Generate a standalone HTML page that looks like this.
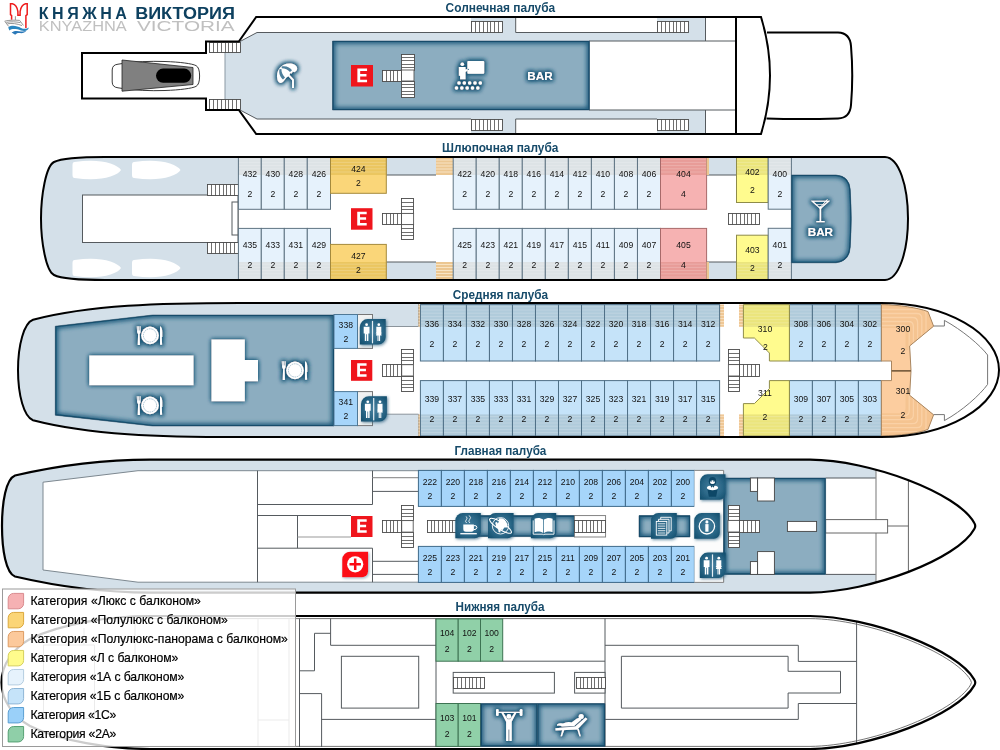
<!DOCTYPE html>
<html><head><meta charset="utf-8"><title>Княжна Виктория</title>
<style>html,body{margin:0;padding:0;background:#fff}svg{display:block;opacity:.999}text{font-family:"Liberation Sans",sans-serif}.n{font-size:9.6px;fill:#111;text-anchor:middle}</style></head><body>
<svg width="1000" height="750" viewBox="0 0 1000 750">
<defs>
<filter id="b15" x="-20%" y="-20%" width="140%" height="140%"><feGaussianBlur stdDeviation="1.9"/></filter>
<filter id="b05" x="-10%" y="-20%" width="120%" height="140%"><feGaussianBlur stdDeviation="0.5"/></filter>
<filter id="shadowg" x="-30%" y="-30%" width="170%" height="170%"><feGaussianBlur in="SourceAlpha" stdDeviation="1.6" result="b"/><feOffset in="b" dx="0.5" dy="0.5" result="o"/><feFlood flood-color="#6b8da3" flood-opacity=".7"/><feComposite in2="o" operator="in" result="c"/><feMerge><feMergeNode in="c"/><feMergeNode in="SourceGraphic"/></feMerge></filter>
<filter id="wglow" x="-20%" y="-20%" width="140%" height="140%"><feGaussianBlur in="SourceAlpha" stdDeviation="2" result="b"/><feFlood flood-color="#1f5878"/><feComposite in2="b" operator="in" result="c"/><feMerge><feMergeNode in="c"/><feMergeNode in="c"/><feMergeNode in="SourceGraphic"/></feMerge></filter>
<filter id="b1" x="-30%" y="-30%" width="160%" height="160%"><feGaussianBlur stdDeviation="1"/></filter>
<filter id="glow" x="-50%" y="-50%" width="200%" height="200%">
<feMorphology in="SourceAlpha" operator="dilate" radius="0.9" result="d"/><feGaussianBlur in="d" stdDeviation="2" result="b"/>
<feFlood flood-color="#1f5878" flood-opacity=".95"/><feComposite in2="b" operator="in" result="c"/>
<feMerge><feMergeNode in="c"/><feMergeNode in="c"/><feMergeNode in="SourceGraphic"/></feMerge></filter>
<filter id="shadow" x="-30%" y="-30%" width="170%" height="170%">
<feGaussianBlur in="SourceAlpha" stdDeviation="1.6" result="b"/><feOffset in="b" dx="1" dy="1" result="o"/>
<feFlood flood-color="#2a5f7e" flood-opacity=".75"/><feComposite in2="o" operator="in" result="c"/>
<feMerge><feMergeNode in="c"/><feMergeNode in="SourceGraphic"/></feMerge></filter>
<radialGradient id="leaf" cx="50%" cy="50%" r="65%"><stop offset="0" stop-color="#457e9d"/><stop offset=".6" stop-color="#2b6787"/><stop offset="1" stop-color="#14506f"/></radialGradient>
</defs>
<rect width="1000" height="750" fill="#fff"/>

<g id="deck1">
<path d="M767,32.5H838Q850,33 851,46Q853.5,75.5 851,105Q850,118 838,118.5Q800,119.5 766.5,118.5" fill="#fff" stroke="#000" stroke-width="2" />
<path d="M82,53H206V41.5H238.8L256.2,17H761Q779,75.5 761,134H256.2L238.8,110H206V98.5H82Z" fill="#fff" stroke="none" stroke-width="0" />
<path d="M225,41.5H240L257,32.5H471V17H515.5V32.5H657V17H705.5V41H589V110H705.5V134H657V119H515.5V134H471V119H257L240,110H225Z" fill="#d4e0e9" stroke="none" stroke-width="0" />
<path d="M225,41.5V110" fill="none" stroke="#8a98a3" stroke-width="1" />
<path d="M240,41.5L257,32.5H471M515.7,17.5V32.5H657" fill="none" stroke="#555a5e" stroke-width="1" />
<path d="M240,110L257,119H471M515.7,133.5V119H657" fill="none" stroke="#555a5e" stroke-width="1" />
<path d="M705.5,17.5V41M705.5,134V110M589,41H735M589,110H735" fill="none" stroke="#555a5e" stroke-width="1" />
<clipPath id="rc1"><path d="M332.5,41H589.5V110H332.5Z"/></clipPath>
<g clip-path="url(#rc1)"><path d="M332.5,41H589.5V110H332.5Z" fill="#8cadc0"/><path d="M332.5,41H589.5V110H332.5Z" fill="none" stroke="#1f5a7c" stroke-width="5.5" filter="url(#b15)"/><path d="M332.5,41H589.5V110H332.5Z" fill="none" stroke="#0f4a6a" stroke-width="2.2" filter="url(#b05)"/></g><path d="M332.5,41H589.5V110H332.5Z" fill="none" stroke="#33556b" stroke-width=".7" opacity=".8"/>
<rect x="471.50" y="21.50" width="31.00" height="11.00" fill="#fff" stroke="#4a4a4a" stroke-width="0.9" />
<path d="M475.5,21.5V32.5M479.5,21.5V32.5M483.5,21.5V32.5M487.5,21.5V32.5M490.5,21.5V32.5M494.5,21.5V32.5M498.5,21.5V32.5" fill="none" stroke="#4a4a4a" stroke-width="0.8" />
<rect x="471.50" y="119.50" width="31.00" height="11.00" fill="#fff" stroke="#4a4a4a" stroke-width="0.9" />
<path d="M475.5,119.5V130.5M479.5,119.5V130.5M483.5,119.5V130.5M487.5,119.5V130.5M490.5,119.5V130.5M494.5,119.5V130.5M498.5,119.5V130.5" fill="none" stroke="#4a4a4a" stroke-width="0.8" />
<rect x="657.50" y="21.50" width="31.00" height="11.00" fill="#fff" stroke="#4a4a4a" stroke-width="0.9" />
<path d="M661.5,21.5V32.5M665.5,21.5V32.5M669.5,21.5V32.5M673.5,21.5V32.5M676.5,21.5V32.5M680.5,21.5V32.5M684.5,21.5V32.5" fill="none" stroke="#4a4a4a" stroke-width="0.8" />
<rect x="657.50" y="119.50" width="31.00" height="11.00" fill="#fff" stroke="#4a4a4a" stroke-width="0.9" />
<path d="M661.5,119.5V130.5M665.5,119.5V130.5M669.5,119.5V130.5M673.5,119.5V130.5M676.5,119.5V130.5M680.5,119.5V130.5M684.5,119.5V130.5" fill="none" stroke="#4a4a4a" stroke-width="0.8" />
<rect x="209.50" y="42.50" width="31.00" height="10.00" fill="#fff" stroke="#4a4a4a" stroke-width="0.9" />
<path d="M213.5,42.5V52.5M217.5,42.5V52.5M221.5,42.5V52.5M225.5,42.5V52.5M228.5,42.5V52.5M232.5,42.5V52.5M236.5,42.5V52.5" fill="none" stroke="#4a4a4a" stroke-width="0.8" />
<rect x="209.50" y="99.50" width="31.00" height="10.00" fill="#fff" stroke="#4a4a4a" stroke-width="0.9" />
<path d="M213.5,99.5V109.5M217.5,99.5V109.5M221.5,99.5V109.5M225.5,99.5V109.5M228.5,99.5V109.5M232.5,99.5V109.5M236.5,99.5V109.5" fill="none" stroke="#4a4a4a" stroke-width="0.8" />
<path d="M82,53H206V41.5H238.8L256.2,17H761Q779,75.5 761,134H256.2L238.8,110H206V98.5H82Z" fill="none" stroke="#000" stroke-width="2.0" stroke-linejoin="miter"/>
<path d="M736,17V134" fill="none" stroke="#000" stroke-width="2" />
<path d="M112.2,70Q112.2,64.8 118,64.2L122,63.6C135,61.6 150,61 165,61.5C180,62 192,63.6 196,65.6Q199.6,67.4 199.6,76Q199.6,84.6 196,86.4C192,88.4 180,90 165,90.5C150,91 135,90.4 122,88.4L118,87.8Q112.2,87.2 112.2,82Z" fill="#fff" stroke="#222" stroke-width="0.9" />
<path d="M122,60L193,67.5V84.5L122,91.2Z" fill="#808080" stroke="#222" stroke-width="0.8" />
<rect x="156" y="68.6" width="35.2" height="14.2" rx="7.1" fill="#000"/>
<rect x="351" y="65" width="22.00" height="21.50" fill="#ef151c"/>
<path d="M357.38,68.44H367.06v2.5H360.18V74.07H366.46v2.5H360.18V79.70H367.06v2.5H357.38Z" fill="#fff"/>
<rect x="401.50" y="54.50" width="13.00" height="16.00" fill="#fff" stroke="#4a4a4a" stroke-width="0.9" />
<path d="M401.5,57.5H414.5M401.5,60.5H414.5M401.5,64.5H414.5M401.5,67.5H414.5" fill="none" stroke="#4a4a4a" stroke-width="0.8" />
<rect x="401.50" y="81.50" width="13.00" height="16.00" fill="#fff" stroke="#4a4a4a" stroke-width="0.9" />
<path d="M401.5,84.5H414.5M401.5,87.5H414.5M401.5,91.5H414.5M401.5,94.5H414.5" fill="none" stroke="#4a4a4a" stroke-width="0.8" />
<rect x="401.00" y="70.00" width="13.00" height="11.00" fill="#fff" stroke="#555" stroke-width="0.9" />
<rect x="382.50" y="70.50" width="19.00" height="11.00" fill="#fff" stroke="#4a4a4a" stroke-width="0.9" />
<path d="M386.5,70.5V81.5M390.5,70.5V81.5M393.5,70.5V81.5M397.5,70.5V81.5" fill="none" stroke="#4a4a4a" stroke-width="0.8" />
</g>
<g id="deck2">
<path d="M105,157H885C899,157.5 908,186 908,218.5C908,251 899,279.5 885,280H105C80,280 60,278 54,275C46,271 41,242 41,218.5C41,195 46,166 54,162C60,159 80,157 105,157Z" fill="#d4e0e9" stroke="none" stroke-width="0" />
<rect x="238.00" y="175.00" width="553.50" height="87.00" fill="#fff" stroke="none" stroke-width="0" />
<rect x="82.50" y="195.00" width="155.50" height="47.50" fill="#fff" stroke="#555a5e" stroke-width="1" />
<rect x="232.00" y="202.00" width="6.00" height="33.00" fill="#fff" stroke="#555a5e" stroke-width="1" />
<rect x="207.50" y="184.50" width="31.00" height="11.00" fill="#fff" stroke="#4a4a4a" stroke-width="0.9" />
<path d="M211.5,184.5V195.5M215.5,184.5V195.5M219.5,184.5V195.5M223.5,184.5V195.5M226.5,184.5V195.5M230.5,184.5V195.5M234.5,184.5V195.5" fill="none" stroke="#4a4a4a" stroke-width="0.8" />
<rect x="207.50" y="242.50" width="31.00" height="11.00" fill="#fff" stroke="#4a4a4a" stroke-width="0.9" />
<path d="M211.5,242.5V253.5M215.5,242.5V253.5M219.5,242.5V253.5M223.5,242.5V253.5M226.5,242.5V253.5M230.5,242.5V253.5M234.5,242.5V253.5" fill="none" stroke="#4a4a4a" stroke-width="0.8" />
<path d="M74.5,162Q72.5,162 72.5,165V175Q72.5,178 74.5,178Q96.5,181 110.5,176.5Q119.0,173.5 121.0,170Q119.0,166.5 110.5,163.5Q96.5,159 74.5,162Z" fill="#fff" stroke="none" stroke-width="0" filter="url(#b05)"/>
<path d="M134,162Q132,162 132,165V175Q132,178 134,178Q156,181 170,176.5Q178.5,173.5 180.5,170Q178.5,166.5 170,163.5Q156,159 134,162Z" fill="#fff" stroke="none" stroke-width="0" filter="url(#b05)"/>
<path d="M74.5,260Q72.5,260 72.5,263V273Q72.5,276 74.5,276Q96.5,279 110.5,274.5Q119.0,271.5 121.0,268Q119.0,264.5 110.5,261.5Q96.5,257 74.5,260Z" fill="#fff" stroke="none" stroke-width="0" filter="url(#b05)"/>
<path d="M134,260Q132,260 132,263V273Q132,276 134,276Q156,279 170,274.5Q178.5,271.5 180.5,268Q178.5,264.5 170,261.5Q156,257 134,260Z" fill="#fff" stroke="none" stroke-width="0" filter="url(#b05)"/>
<path d="M386.3,175H436M386.3,262H436M706.6,175H736.5M706.6,262H736.5" fill="none" stroke="#555a5e" stroke-width="1" />
<rect x="436" y="157.5" width="17" height="17.5" fill="#ecc792"/>
<path d="M436,160.0H453M436,163.0H453M436,166.0H453M436,169.0H453M436,172.0H453" fill="none" stroke="#f8e4c4" stroke-width="1.1" />
<rect x="436" y="262" width="17" height="17.5" fill="#ecc792"/>
<path d="M436,264.5H453M436,267.5H453M436,270.5H453M436,273.5H453M436,276.5H453" fill="none" stroke="#f8e4c4" stroke-width="1.1" />
<rect x="238.40" y="157.00" width="22.90" height="52.30" fill="#e6f2fc" stroke="none" stroke-width="0" />
<rect x="238.40" y="157.00" width="22.90" height="18.00" fill="#dde3e6"/>
<path d="M238.40,159.20H261.30M238.40,162.40H261.30M238.40,165.60H261.30M238.40,168.80H261.30M238.40,172.00H261.30" fill="none" stroke="#ffffff" stroke-width="0.7" opacity=".28"/>
<rect x="238.40" y="157.00" width="22.90" height="52.30" fill="none" stroke="#5f7483" stroke-width="1" />
<text class="n" transform="translate(249.9,176.7) scale(.9,1)">432</text>
<text class="n" transform="translate(249.9,197.2) scale(.9,1)">2</text>
<rect x="238.40" y="228.40" width="22.90" height="51.60" fill="#e6f2fc" stroke="none" stroke-width="0" />
<rect x="238.40" y="262.00" width="22.90" height="18.00" fill="#dde3e6"/>
<path d="M238.40,264.20H261.30M238.40,267.40H261.30M238.40,270.60H261.30M238.40,273.80H261.30M238.40,277.00H261.30" fill="none" stroke="#ffffff" stroke-width="0.7" opacity=".28"/>
<rect x="238.40" y="228.40" width="22.90" height="51.60" fill="none" stroke="#5f7483" stroke-width="1" />
<text class="n" transform="translate(249.9,248.0) scale(.9,1)">435</text>
<text class="n" transform="translate(249.9,268.1) scale(.9,1)">2</text>
<rect x="261.30" y="157.00" width="23.00" height="52.30" fill="#e6f2fc" stroke="none" stroke-width="0" />
<rect x="261.30" y="157.00" width="23.00" height="18.00" fill="#dde3e6"/>
<path d="M261.30,159.20H284.30M261.30,162.40H284.30M261.30,165.60H284.30M261.30,168.80H284.30M261.30,172.00H284.30" fill="none" stroke="#ffffff" stroke-width="0.7" opacity=".28"/>
<rect x="261.30" y="157.00" width="23.00" height="52.30" fill="none" stroke="#5f7483" stroke-width="1" />
<text class="n" transform="translate(272.8,176.7) scale(.9,1)">430</text>
<text class="n" transform="translate(272.8,197.2) scale(.9,1)">2</text>
<rect x="261.30" y="228.40" width="23.00" height="51.60" fill="#e6f2fc" stroke="none" stroke-width="0" />
<rect x="261.30" y="262.00" width="23.00" height="18.00" fill="#dde3e6"/>
<path d="M261.30,264.20H284.30M261.30,267.40H284.30M261.30,270.60H284.30M261.30,273.80H284.30M261.30,277.00H284.30" fill="none" stroke="#ffffff" stroke-width="0.7" opacity=".28"/>
<rect x="261.30" y="228.40" width="23.00" height="51.60" fill="none" stroke="#5f7483" stroke-width="1" />
<text class="n" transform="translate(272.8,248.0) scale(.9,1)">433</text>
<text class="n" transform="translate(272.8,268.1) scale(.9,1)">2</text>
<rect x="284.30" y="157.00" width="23.00" height="52.30" fill="#e6f2fc" stroke="none" stroke-width="0" />
<rect x="284.30" y="157.00" width="23.00" height="18.00" fill="#dde3e6"/>
<path d="M284.30,159.20H307.30M284.30,162.40H307.30M284.30,165.60H307.30M284.30,168.80H307.30M284.30,172.00H307.30" fill="none" stroke="#ffffff" stroke-width="0.7" opacity=".28"/>
<rect x="284.30" y="157.00" width="23.00" height="52.30" fill="none" stroke="#5f7483" stroke-width="1" />
<text class="n" transform="translate(295.8,176.7) scale(.9,1)">428</text>
<text class="n" transform="translate(295.8,197.2) scale(.9,1)">2</text>
<rect x="284.30" y="228.40" width="23.00" height="51.60" fill="#e6f2fc" stroke="none" stroke-width="0" />
<rect x="284.30" y="262.00" width="23.00" height="18.00" fill="#dde3e6"/>
<path d="M284.30,264.20H307.30M284.30,267.40H307.30M284.30,270.60H307.30M284.30,273.80H307.30M284.30,277.00H307.30" fill="none" stroke="#ffffff" stroke-width="0.7" opacity=".28"/>
<rect x="284.30" y="228.40" width="23.00" height="51.60" fill="none" stroke="#5f7483" stroke-width="1" />
<text class="n" transform="translate(295.8,248.0) scale(.9,1)">431</text>
<text class="n" transform="translate(295.8,268.1) scale(.9,1)">2</text>
<rect x="307.30" y="157.00" width="23.20" height="52.30" fill="#e6f2fc" stroke="none" stroke-width="0" />
<rect x="307.30" y="157.00" width="23.20" height="18.00" fill="#dde3e6"/>
<path d="M307.30,159.20H330.50M307.30,162.40H330.50M307.30,165.60H330.50M307.30,168.80H330.50M307.30,172.00H330.50" fill="none" stroke="#ffffff" stroke-width="0.7" opacity=".28"/>
<rect x="307.30" y="157.00" width="23.20" height="52.30" fill="none" stroke="#5f7483" stroke-width="1" />
<text class="n" transform="translate(318.9,176.7) scale(.9,1)">426</text>
<text class="n" transform="translate(318.9,197.2) scale(.9,1)">2</text>
<rect x="307.30" y="228.40" width="23.20" height="51.60" fill="#e6f2fc" stroke="none" stroke-width="0" />
<rect x="307.30" y="262.00" width="23.20" height="18.00" fill="#dde3e6"/>
<path d="M307.30,264.20H330.50M307.30,267.40H330.50M307.30,270.60H330.50M307.30,273.80H330.50M307.30,277.00H330.50" fill="none" stroke="#ffffff" stroke-width="0.7" opacity=".28"/>
<rect x="307.30" y="228.40" width="23.20" height="51.60" fill="none" stroke="#5f7483" stroke-width="1" />
<text class="n" transform="translate(318.9,248.0) scale(.9,1)">429</text>
<text class="n" transform="translate(318.9,268.1) scale(.9,1)">2</text>
<rect x="330.50" y="157.00" width="55.80" height="36.30" fill="#fad679" stroke="none" stroke-width="0" />
<rect x="330.50" y="157.00" width="55.80" height="18.00" fill="#ebc660"/>
<path d="M330.50,159.20H386.30M330.50,162.40H386.30M330.50,165.60H386.30M330.50,168.80H386.30M330.50,172.00H386.30" fill="none" stroke="#ffffff" stroke-width="0.7" opacity=".28"/>
<rect x="330.50" y="157.00" width="55.80" height="36.30" fill="none" stroke="#a58a3c" stroke-width="1" />
<text class="n" transform="translate(358.4,172.1) scale(.9,1)">424</text>
<text class="n" transform="translate(358.4,186.4) scale(.9,1)">2</text>
<rect x="330.50" y="244.40" width="55.80" height="35.60" fill="#fad679" stroke="none" stroke-width="0" />
<rect x="330.50" y="262.00" width="55.80" height="18.00" fill="#ebc660"/>
<path d="M330.50,264.20H386.30M330.50,267.40H386.30M330.50,270.60H386.30M330.50,273.80H386.30M330.50,277.00H386.30" fill="none" stroke="#ffffff" stroke-width="0.7" opacity=".28"/>
<rect x="330.50" y="244.40" width="55.80" height="35.60" fill="none" stroke="#a58a3c" stroke-width="1" />
<text class="n" transform="translate(358.4,258.8) scale(.9,1)">427</text>
<text class="n" transform="translate(358.4,272.8) scale(.9,1)">2</text>
<rect x="453.20" y="157.00" width="23.03" height="52.30" fill="#e6f2fc" stroke="none" stroke-width="0" />
<rect x="453.20" y="157.00" width="23.03" height="18.00" fill="#dde3e6"/>
<path d="M453.20,159.20H476.23M453.20,162.40H476.23M453.20,165.60H476.23M453.20,168.80H476.23M453.20,172.00H476.23" fill="none" stroke="#ffffff" stroke-width="0.7" opacity=".28"/>
<rect x="453.20" y="157.00" width="23.03" height="52.30" fill="none" stroke="#5f7483" stroke-width="1" />
<text class="n" transform="translate(464.7,176.7) scale(.9,1)">422</text>
<text class="n" transform="translate(464.7,197.2) scale(.9,1)">2</text>
<rect x="453.20" y="228.40" width="23.03" height="51.60" fill="#e6f2fc" stroke="none" stroke-width="0" />
<rect x="453.20" y="262.00" width="23.03" height="18.00" fill="#dde3e6"/>
<path d="M453.20,264.20H476.23M453.20,267.40H476.23M453.20,270.60H476.23M453.20,273.80H476.23M453.20,277.00H476.23" fill="none" stroke="#ffffff" stroke-width="0.7" opacity=".28"/>
<rect x="453.20" y="228.40" width="23.03" height="51.60" fill="none" stroke="#5f7483" stroke-width="1" />
<text class="n" transform="translate(464.7,248.0) scale(.9,1)">425</text>
<text class="n" transform="translate(464.7,268.1) scale(.9,1)">2</text>
<rect x="476.23" y="157.00" width="23.03" height="52.30" fill="#e6f2fc" stroke="none" stroke-width="0" />
<rect x="476.23" y="157.00" width="23.03" height="18.00" fill="#dde3e6"/>
<path d="M476.23,159.20H499.27M476.23,162.40H499.27M476.23,165.60H499.27M476.23,168.80H499.27M476.23,172.00H499.27" fill="none" stroke="#ffffff" stroke-width="0.7" opacity=".28"/>
<rect x="476.23" y="157.00" width="23.03" height="52.30" fill="none" stroke="#5f7483" stroke-width="1" />
<text class="n" transform="translate(487.8,176.7) scale(.9,1)">420</text>
<text class="n" transform="translate(487.8,197.2) scale(.9,1)">2</text>
<rect x="476.23" y="228.40" width="23.03" height="51.60" fill="#e6f2fc" stroke="none" stroke-width="0" />
<rect x="476.23" y="262.00" width="23.03" height="18.00" fill="#dde3e6"/>
<path d="M476.23,264.20H499.27M476.23,267.40H499.27M476.23,270.60H499.27M476.23,273.80H499.27M476.23,277.00H499.27" fill="none" stroke="#ffffff" stroke-width="0.7" opacity=".28"/>
<rect x="476.23" y="228.40" width="23.03" height="51.60" fill="none" stroke="#5f7483" stroke-width="1" />
<text class="n" transform="translate(487.8,248.0) scale(.9,1)">423</text>
<text class="n" transform="translate(487.8,268.1) scale(.9,1)">2</text>
<rect x="499.27" y="157.00" width="23.03" height="52.30" fill="#e6f2fc" stroke="none" stroke-width="0" />
<rect x="499.27" y="157.00" width="23.03" height="18.00" fill="#dde3e6"/>
<path d="M499.27,159.20H522.30M499.27,162.40H522.30M499.27,165.60H522.30M499.27,168.80H522.30M499.27,172.00H522.30" fill="none" stroke="#ffffff" stroke-width="0.7" opacity=".28"/>
<rect x="499.27" y="157.00" width="23.03" height="52.30" fill="none" stroke="#5f7483" stroke-width="1" />
<text class="n" transform="translate(510.8,176.7) scale(.9,1)">418</text>
<text class="n" transform="translate(510.8,197.2) scale(.9,1)">2</text>
<rect x="499.27" y="228.40" width="23.03" height="51.60" fill="#e6f2fc" stroke="none" stroke-width="0" />
<rect x="499.27" y="262.00" width="23.03" height="18.00" fill="#dde3e6"/>
<path d="M499.27,264.20H522.30M499.27,267.40H522.30M499.27,270.60H522.30M499.27,273.80H522.30M499.27,277.00H522.30" fill="none" stroke="#ffffff" stroke-width="0.7" opacity=".28"/>
<rect x="499.27" y="228.40" width="23.03" height="51.60" fill="none" stroke="#5f7483" stroke-width="1" />
<text class="n" transform="translate(510.8,248.0) scale(.9,1)">421</text>
<text class="n" transform="translate(510.8,268.1) scale(.9,1)">2</text>
<rect x="522.30" y="157.00" width="23.03" height="52.30" fill="#e6f2fc" stroke="none" stroke-width="0" />
<rect x="522.30" y="157.00" width="23.03" height="18.00" fill="#dde3e6"/>
<path d="M522.30,159.20H545.33M522.30,162.40H545.33M522.30,165.60H545.33M522.30,168.80H545.33M522.30,172.00H545.33" fill="none" stroke="#ffffff" stroke-width="0.7" opacity=".28"/>
<rect x="522.30" y="157.00" width="23.03" height="52.30" fill="none" stroke="#5f7483" stroke-width="1" />
<text class="n" transform="translate(533.8,176.7) scale(.9,1)">416</text>
<text class="n" transform="translate(533.8,197.2) scale(.9,1)">2</text>
<rect x="522.30" y="228.40" width="23.03" height="51.60" fill="#e6f2fc" stroke="none" stroke-width="0" />
<rect x="522.30" y="262.00" width="23.03" height="18.00" fill="#dde3e6"/>
<path d="M522.30,264.20H545.33M522.30,267.40H545.33M522.30,270.60H545.33M522.30,273.80H545.33M522.30,277.00H545.33" fill="none" stroke="#ffffff" stroke-width="0.7" opacity=".28"/>
<rect x="522.30" y="228.40" width="23.03" height="51.60" fill="none" stroke="#5f7483" stroke-width="1" />
<text class="n" transform="translate(533.8,248.0) scale(.9,1)">419</text>
<text class="n" transform="translate(533.8,268.1) scale(.9,1)">2</text>
<rect x="545.33" y="157.00" width="23.03" height="52.30" fill="#e6f2fc" stroke="none" stroke-width="0" />
<rect x="545.33" y="157.00" width="23.03" height="18.00" fill="#dde3e6"/>
<path d="M545.33,159.20H568.37M545.33,162.40H568.37M545.33,165.60H568.37M545.33,168.80H568.37M545.33,172.00H568.37" fill="none" stroke="#ffffff" stroke-width="0.7" opacity=".28"/>
<rect x="545.33" y="157.00" width="23.03" height="52.30" fill="none" stroke="#5f7483" stroke-width="1" />
<text class="n" transform="translate(556.9,176.7) scale(.9,1)">414</text>
<text class="n" transform="translate(556.9,197.2) scale(.9,1)">2</text>
<rect x="545.33" y="228.40" width="23.03" height="51.60" fill="#e6f2fc" stroke="none" stroke-width="0" />
<rect x="545.33" y="262.00" width="23.03" height="18.00" fill="#dde3e6"/>
<path d="M545.33,264.20H568.37M545.33,267.40H568.37M545.33,270.60H568.37M545.33,273.80H568.37M545.33,277.00H568.37" fill="none" stroke="#ffffff" stroke-width="0.7" opacity=".28"/>
<rect x="545.33" y="228.40" width="23.03" height="51.60" fill="none" stroke="#5f7483" stroke-width="1" />
<text class="n" transform="translate(556.9,248.0) scale(.9,1)">417</text>
<text class="n" transform="translate(556.9,268.1) scale(.9,1)">2</text>
<rect x="568.37" y="157.00" width="23.03" height="52.30" fill="#e6f2fc" stroke="none" stroke-width="0" />
<rect x="568.37" y="157.00" width="23.03" height="18.00" fill="#dde3e6"/>
<path d="M568.37,159.20H591.40M568.37,162.40H591.40M568.37,165.60H591.40M568.37,168.80H591.40M568.37,172.00H591.40" fill="none" stroke="#ffffff" stroke-width="0.7" opacity=".28"/>
<rect x="568.37" y="157.00" width="23.03" height="52.30" fill="none" stroke="#5f7483" stroke-width="1" />
<text class="n" transform="translate(579.9,176.7) scale(.9,1)">412</text>
<text class="n" transform="translate(579.9,197.2) scale(.9,1)">2</text>
<rect x="568.37" y="228.40" width="23.03" height="51.60" fill="#e6f2fc" stroke="none" stroke-width="0" />
<rect x="568.37" y="262.00" width="23.03" height="18.00" fill="#dde3e6"/>
<path d="M568.37,264.20H591.40M568.37,267.40H591.40M568.37,270.60H591.40M568.37,273.80H591.40M568.37,277.00H591.40" fill="none" stroke="#ffffff" stroke-width="0.7" opacity=".28"/>
<rect x="568.37" y="228.40" width="23.03" height="51.60" fill="none" stroke="#5f7483" stroke-width="1" />
<text class="n" transform="translate(579.9,248.0) scale(.9,1)">415</text>
<text class="n" transform="translate(579.9,268.1) scale(.9,1)">2</text>
<rect x="591.40" y="157.00" width="23.03" height="52.30" fill="#e6f2fc" stroke="none" stroke-width="0" />
<rect x="591.40" y="157.00" width="23.03" height="18.00" fill="#dde3e6"/>
<path d="M591.40,159.20H614.43M591.40,162.40H614.43M591.40,165.60H614.43M591.40,168.80H614.43M591.40,172.00H614.43" fill="none" stroke="#ffffff" stroke-width="0.7" opacity=".28"/>
<rect x="591.40" y="157.00" width="23.03" height="52.30" fill="none" stroke="#5f7483" stroke-width="1" />
<text class="n" transform="translate(602.9,176.7) scale(.9,1)">410</text>
<text class="n" transform="translate(602.9,197.2) scale(.9,1)">2</text>
<rect x="591.40" y="228.40" width="23.03" height="51.60" fill="#e6f2fc" stroke="none" stroke-width="0" />
<rect x="591.40" y="262.00" width="23.03" height="18.00" fill="#dde3e6"/>
<path d="M591.40,264.20H614.43M591.40,267.40H614.43M591.40,270.60H614.43M591.40,273.80H614.43M591.40,277.00H614.43" fill="none" stroke="#ffffff" stroke-width="0.7" opacity=".28"/>
<rect x="591.40" y="228.40" width="23.03" height="51.60" fill="none" stroke="#5f7483" stroke-width="1" />
<text class="n" transform="translate(602.9,248.0) scale(.9,1)">411</text>
<text class="n" transform="translate(602.9,268.1) scale(.9,1)">2</text>
<rect x="614.43" y="157.00" width="23.03" height="52.30" fill="#e6f2fc" stroke="none" stroke-width="0" />
<rect x="614.43" y="157.00" width="23.03" height="18.00" fill="#dde3e6"/>
<path d="M614.43,159.20H637.47M614.43,162.40H637.47M614.43,165.60H637.47M614.43,168.80H637.47M614.43,172.00H637.47" fill="none" stroke="#ffffff" stroke-width="0.7" opacity=".28"/>
<rect x="614.43" y="157.00" width="23.03" height="52.30" fill="none" stroke="#5f7483" stroke-width="1" />
<text class="n" transform="translate(626.0,176.7) scale(.9,1)">408</text>
<text class="n" transform="translate(626.0,197.2) scale(.9,1)">2</text>
<rect x="614.43" y="228.40" width="23.03" height="51.60" fill="#e6f2fc" stroke="none" stroke-width="0" />
<rect x="614.43" y="262.00" width="23.03" height="18.00" fill="#dde3e6"/>
<path d="M614.43,264.20H637.47M614.43,267.40H637.47M614.43,270.60H637.47M614.43,273.80H637.47M614.43,277.00H637.47" fill="none" stroke="#ffffff" stroke-width="0.7" opacity=".28"/>
<rect x="614.43" y="228.40" width="23.03" height="51.60" fill="none" stroke="#5f7483" stroke-width="1" />
<text class="n" transform="translate(626.0,248.0) scale(.9,1)">409</text>
<text class="n" transform="translate(626.0,268.1) scale(.9,1)">2</text>
<rect x="637.47" y="157.00" width="23.03" height="52.30" fill="#e6f2fc" stroke="none" stroke-width="0" />
<rect x="637.47" y="157.00" width="23.03" height="18.00" fill="#dde3e6"/>
<path d="M637.47,159.20H660.50M637.47,162.40H660.50M637.47,165.60H660.50M637.47,168.80H660.50M637.47,172.00H660.50" fill="none" stroke="#ffffff" stroke-width="0.7" opacity=".28"/>
<rect x="637.47" y="157.00" width="23.03" height="52.30" fill="none" stroke="#5f7483" stroke-width="1" />
<text class="n" transform="translate(649.0,176.7) scale(.9,1)">406</text>
<text class="n" transform="translate(649.0,197.2) scale(.9,1)">2</text>
<rect x="637.47" y="228.40" width="23.03" height="51.60" fill="#e6f2fc" stroke="none" stroke-width="0" />
<rect x="637.47" y="262.00" width="23.03" height="18.00" fill="#dde3e6"/>
<path d="M637.47,264.20H660.50M637.47,267.40H660.50M637.47,270.60H660.50M637.47,273.80H660.50M637.47,277.00H660.50" fill="none" stroke="#ffffff" stroke-width="0.7" opacity=".28"/>
<rect x="637.47" y="228.40" width="23.03" height="51.60" fill="none" stroke="#5f7483" stroke-width="1" />
<text class="n" transform="translate(649.0,248.0) scale(.9,1)">407</text>
<text class="n" transform="translate(649.0,268.1) scale(.9,1)">2</text>
<rect x="660.50" y="157.00" width="46.10" height="52.30" fill="#f6b2b2" stroke="none" stroke-width="0" />
<rect x="660.50" y="157.00" width="46.10" height="18.00" fill="#e89c98"/>
<path d="M660.50,159.20H706.60M660.50,162.40H706.60M660.50,165.60H706.60M660.50,168.80H706.60M660.50,172.00H706.60" fill="none" stroke="#ffffff" stroke-width="0.7" opacity=".28"/>
<rect x="660.50" y="157.00" width="46.10" height="52.30" fill="none" stroke="#a86a6a" stroke-width="1" />
<text class="n" transform="translate(683.5,176.7) scale(.9,1)">404</text>
<text class="n" transform="translate(683.5,197.2) scale(.9,1)">4</text>
<rect x="660.50" y="228.40" width="46.10" height="51.60" fill="#f6b2b2" stroke="none" stroke-width="0" />
<rect x="660.50" y="262.00" width="46.10" height="18.00" fill="#e89c98"/>
<path d="M660.50,264.20H706.60M660.50,267.40H706.60M660.50,270.60H706.60M660.50,273.80H706.60M660.50,277.00H706.60" fill="none" stroke="#ffffff" stroke-width="0.7" opacity=".28"/>
<rect x="660.50" y="228.40" width="46.10" height="51.60" fill="none" stroke="#a86a6a" stroke-width="1" />
<text class="n" transform="translate(683.5,248.0) scale(.9,1)">405</text>
<text class="n" transform="translate(683.5,268.1) scale(.9,1)">4</text>
<rect x="706.6" y="157.5" width="2.4" height="17.5" fill="#ecc792"/>
<rect x="706.6" y="262" width="2.4" height="17.5" fill="#ecc792"/>
<rect x="736.50" y="157.00" width="31.70" height="45.50" fill="#fffb8e" stroke="none" stroke-width="0" />
<rect x="736.50" y="157.00" width="31.70" height="18.00" fill="#ebe57c"/>
<path d="M736.50,159.20H768.20M736.50,162.40H768.20M736.50,165.60H768.20M736.50,168.80H768.20M736.50,172.00H768.20" fill="none" stroke="#ffffff" stroke-width="0.7" opacity=".28"/>
<rect x="736.50" y="157.00" width="31.70" height="45.50" fill="none" stroke="#8f8c4a" stroke-width="1" />
<text class="n" transform="translate(752.4,175.4) scale(.9,1)">402</text>
<text class="n" transform="translate(752.4,193.2) scale(.9,1)">2</text>
<rect x="736.50" y="235.20" width="31.70" height="44.80" fill="#fffb8e" stroke="none" stroke-width="0" />
<rect x="736.50" y="262.00" width="31.70" height="18.00" fill="#ebe57c"/>
<path d="M736.50,264.20H768.20M736.50,267.40H768.20M736.50,270.60H768.20M736.50,273.80H768.20M736.50,277.00H768.20" fill="none" stroke="#ffffff" stroke-width="0.7" opacity=".28"/>
<rect x="736.50" y="235.20" width="31.70" height="44.80" fill="none" stroke="#8f8c4a" stroke-width="1" />
<text class="n" transform="translate(752.4,253.0) scale(.9,1)">403</text>
<text class="n" transform="translate(752.4,271.0) scale(.9,1)">2</text>
<rect x="768.20" y="157.00" width="23.20" height="52.20" fill="#e6f2fc" stroke="none" stroke-width="0" />
<rect x="768.20" y="157.00" width="23.20" height="18.00" fill="#dde3e6"/>
<path d="M768.20,159.20H791.40M768.20,162.40H791.40M768.20,165.60H791.40M768.20,168.80H791.40M768.20,172.00H791.40" fill="none" stroke="#ffffff" stroke-width="0.7" opacity=".28"/>
<rect x="768.20" y="157.00" width="23.20" height="52.20" fill="none" stroke="#5f7483" stroke-width="1" />
<text class="n" transform="translate(779.8,177.1) scale(.9,1)">400</text>
<text class="n" transform="translate(779.8,197.4) scale(.9,1)">2</text>
<rect x="768.20" y="228.30" width="23.20" height="51.70" fill="#e6f2fc" stroke="none" stroke-width="0" />
<rect x="768.20" y="262.00" width="23.20" height="18.00" fill="#dde3e6"/>
<path d="M768.20,264.20H791.40M768.20,267.40H791.40M768.20,270.60H791.40M768.20,273.80H791.40M768.20,277.00H791.40" fill="none" stroke="#ffffff" stroke-width="0.7" opacity=".28"/>
<rect x="768.20" y="228.30" width="23.20" height="51.70" fill="none" stroke="#5f7483" stroke-width="1" />
<text class="n" transform="translate(779.8,248.0) scale(.9,1)">401</text>
<text class="n" transform="translate(779.8,268.0) scale(.9,1)">2</text>
<rect x="728.50" y="213.50" width="31.00" height="11.00" fill="#fff" stroke="#4a4a4a" stroke-width="0.9" />
<path d="M732.5,213.5V224.5M736.5,213.5V224.5M740.5,213.5V224.5M744.5,213.5V224.5M747.5,213.5V224.5M751.5,213.5V224.5M755.5,213.5V224.5" fill="none" stroke="#4a4a4a" stroke-width="0.8" />
<clipPath id="rc2"><path d="M791.4,175H836Q849.5,176 850.3,190Q852.3,218.5 850.3,247Q849.5,261.5 836,262.8H791.4Z"/></clipPath>
<g clip-path="url(#rc2)"><path d="M791.4,175H836Q849.5,176 850.3,190Q852.3,218.5 850.3,247Q849.5,261.5 836,262.8H791.4Z" fill="#8cadc0"/><path d="M791.4,175H836Q849.5,176 850.3,190Q852.3,218.5 850.3,247Q849.5,261.5 836,262.8H791.4Z" fill="none" stroke="#1f5a7c" stroke-width="5.5" filter="url(#b15)"/><path d="M791.4,175H836Q849.5,176 850.3,190Q852.3,218.5 850.3,247Q849.5,261.5 836,262.8H791.4Z" fill="none" stroke="#0f4a6a" stroke-width="2.2" filter="url(#b05)"/></g><path d="M791.4,175H836Q849.5,176 850.3,190Q852.3,218.5 850.3,247Q849.5,261.5 836,262.8H791.4Z" fill="none" stroke="#33556b" stroke-width=".7" opacity=".8"/>
<rect x="351" y="208.2" width="21.50" height="21.50" fill="#ef151c"/>
<path d="M357.24,211.64H366.69v2.5H360.04V217.27H366.09v2.5H360.04V222.90H366.69v2.5H357.24Z" fill="#fff"/>
<rect x="401.50" y="198.50" width="12.00" height="15.00" fill="#fff" stroke="#4a4a4a" stroke-width="0.9" />
<path d="M401.5,202.5H413.5M401.5,206.5H413.5M401.5,209.5H413.5" fill="none" stroke="#4a4a4a" stroke-width="0.8" />
<rect x="401.50" y="224.50" width="12.00" height="15.00" fill="#fff" stroke="#4a4a4a" stroke-width="0.9" />
<path d="M401.5,228.5H413.5M401.5,232.5H413.5M401.5,235.5H413.5" fill="none" stroke="#4a4a4a" stroke-width="0.8" />
<rect x="401.50" y="213.40" width="12.10" height="11.20" fill="#fff" stroke="#555" stroke-width="0.9" />
<rect x="382.50" y="213.50" width="19.00" height="11.00" fill="#fff" stroke="#4a4a4a" stroke-width="0.9" />
<path d="M386.5,213.5V224.5M390.5,213.5V224.5M393.5,213.5V224.5M397.5,213.5V224.5" fill="none" stroke="#4a4a4a" stroke-width="0.8" />
<path d="M105,157H885C899,157.5 908,186 908,218.5C908,251 899,279.5 885,280H105C80,280 60,278 54,275C46,271 41,242 41,218.5C41,195 46,166 54,162C60,159 80,157 105,157Z" fill="none" stroke="#000" stroke-width="2.0" />
</g>
<g id="deck3">
<clipPath id="h3"><path d="M240,303H881A118,67 0 0 1 881,437H240C160,437 90,435 33,420.2C24,417 18,395 18,370C18,345 24,323 33,319.8C90,305 160,303 240,303Z"/></clipPath>
<path d="M240,303H881A118,67 0 0 1 881,437H240C160,437 90,435 33,420.2C24,417 18,395 18,370C18,345 24,323 33,319.8C90,305 160,303 240,303Z" fill="#fff" stroke="none" stroke-width="0" />
<g clip-path="url(#h3)"><rect x="0" y="300" width="418.5" height="140" fill="#d4e0e9"/></g>
<rect x="334.00" y="348.40" width="86.50" height="43.20" fill="#fff" stroke="none" stroke-width="0" />
<rect x="372.50" y="326.50" width="48.00" height="87.70" fill="#fff" stroke="none" stroke-width="0" />
<path d="M372.5,326.5H418.5V304M372.5,414.2H418.5V436" fill="none" stroke="#8b949b" stroke-width="1" />
<rect x="418.5" y="304.5" width="2" height="22.3" fill="#efc795"/>
<path d="M418.5,306.5h2M418.5,309.5h2M418.5,312.5h2M418.5,315.5h2M418.5,318.5h2M418.5,321.5h2M418.5,324.5h2" fill="none" stroke="#f9e2c2" stroke-width="1" opacity=".8"/>
<rect x="418.5" y="414.4" width="2" height="22.3" fill="#efc795"/>
<path d="M418.5,416.4h2M418.5,419.4h2M418.5,422.4h2M418.5,425.4h2M418.5,428.4h2M418.5,431.4h2M418.5,434.4h2" fill="none" stroke="#f9e2c2" stroke-width="1" opacity=".8"/>
<rect x="719.6" y="304.5" width="4.4" height="22.3" fill="#efc795"/>
<path d="M719.6,306.5h4.4M719.6,309.5h4.4M719.6,312.5h4.4M719.6,315.5h4.4M719.6,318.5h4.4M719.6,321.5h4.4M719.6,324.5h4.4" fill="none" stroke="#f9e2c2" stroke-width="1" opacity=".8"/>
<rect x="719.6" y="414.4" width="4.4" height="22.3" fill="#efc795"/>
<path d="M719.6,416.4h4.4M719.6,419.4h4.4M719.6,422.4h4.4M719.6,425.4h4.4M719.6,428.4h4.4M719.6,431.4h4.4M719.6,434.4h4.4" fill="none" stroke="#f9e2c2" stroke-width="1" opacity=".8"/>
<rect x="739" y="304.5" width="4.4" height="22.3" fill="#efc795"/>
<path d="M739,306.5h4.4M739,309.5h4.4M739,312.5h4.4M739,315.5h4.4M739,318.5h4.4M739,321.5h4.4M739,324.5h4.4" fill="none" stroke="#f9e2c2" stroke-width="1" opacity=".8"/>
<rect x="739" y="414.4" width="4.4" height="22.3" fill="#efc795"/>
<path d="M739,416.4h4.4M739,419.4h4.4M739,422.4h4.4M739,425.4h4.4M739,428.4h4.4M739,431.4h4.4M739,434.4h4.4" fill="none" stroke="#f9e2c2" stroke-width="1" opacity=".8"/>
<clipPath id="rc3"><path d="M55.3,326.2L152.6,315H334V426H152.6L55.3,415.2Z"/></clipPath>
<g clip-path="url(#rc3)"><path d="M55.3,326.2L152.6,315H334V426H152.6L55.3,415.2Z" fill="#8cadc0"/><path d="M55.3,326.2L152.6,315H334V426H152.6L55.3,415.2Z" fill="none" stroke="#1f5a7c" stroke-width="5.5" filter="url(#b15)"/><path d="M55.3,326.2L152.6,315H334V426H152.6L55.3,415.2Z" fill="none" stroke="#0f4a6a" stroke-width="2.2" filter="url(#b05)"/></g><path d="M55.3,326.2L152.6,315H334V426H152.6L55.3,415.2Z" fill="none" stroke="#33556b" stroke-width=".7" opacity=".8"/>
<rect x="89.30" y="355.50" width="104.20" height="29.70" fill="#fff" stroke="none" stroke-width="0" filter="url(#wglow)"/>
<path d="M211.5,339.4H244.8V360H258V381.2H244.8V401.3H211.5Z" fill="#fff" stroke="none" stroke-width="0" filter="url(#wglow)"/>
<rect x="357.50" y="314.50" width="15.00" height="33.90" fill="#f1f2f2" stroke="#777" stroke-width="1" />
<rect x="357.50" y="391.60" width="15.00" height="34.00" fill="#f1f2f2" stroke="#777" stroke-width="1" />
<rect x="334.00" y="314.50" width="23.50" height="33.90" fill="#a6d5fa" stroke="none" stroke-width="0" />
<rect x="334.00" y="314.50" width="23.50" height="33.90" fill="none" stroke="#4f7896" stroke-width="1" />
<text class="n" transform="translate(345.8,328.0) scale(.9,1)">338</text>
<text class="n" transform="translate(345.8,342.0) scale(.9,1)">2</text>
<rect x="334.00" y="391.60" width="23.50" height="34.00" fill="#a6d5fa" stroke="none" stroke-width="0" />
<rect x="334.00" y="391.60" width="23.50" height="34.00" fill="none" stroke="#4f7896" stroke-width="1" />
<text class="n" transform="translate(345.8,405.0) scale(.9,1)">341</text>
<text class="n" transform="translate(345.8,419.0) scale(.9,1)">2</text>
<rect x="351" y="360" width="21.30" height="20.80" fill="#ef151c"/>
<path d="M357.18,363.33H366.55v2.5H359.98V368.73H365.95v2.5H359.98V374.14H366.55v2.5H357.18Z" fill="#fff"/>
<rect x="401.50" y="349.50" width="12.00" height="15.00" fill="#fff" stroke="#4a4a4a" stroke-width="0.9" />
<path d="M401.5,353.5H413.5M401.5,357.5H413.5M401.5,360.5H413.5" fill="none" stroke="#4a4a4a" stroke-width="0.8" />
<rect x="401.50" y="376.50" width="12.00" height="15.00" fill="#fff" stroke="#4a4a4a" stroke-width="0.9" />
<path d="M401.5,380.5H413.5M401.5,384.5H413.5M401.5,387.5H413.5" fill="none" stroke="#4a4a4a" stroke-width="0.8" />
<rect x="401.70" y="364.70" width="11.70" height="11.30" fill="#fff" stroke="#555" stroke-width="0.9" />
<rect x="382.50" y="364.50" width="19.00" height="12.00" fill="#fff" stroke="#4a4a4a" stroke-width="0.9" />
<path d="M386.5,364.5V376.5M390.5,364.5V376.5M393.5,364.5V376.5M397.5,364.5V376.5" fill="none" stroke="#4a4a4a" stroke-width="0.8" />
<rect x="420.40" y="304.60" width="23.02" height="56.40" fill="#c5e3f9" stroke="none" stroke-width="0" />
<rect x="420.40" y="304.60" width="23.02" height="22.40" fill="#b0cbdb"/>
<path d="M420.40,306.80H443.42M420.40,310.00H443.42M420.40,313.20H443.42M420.40,316.40H443.42M420.40,319.60H443.42M420.40,322.80H443.42M420.40,326.00H443.42" fill="none" stroke="#ffffff" stroke-width="0.7" opacity=".28"/>
<rect x="420.40" y="304.60" width="23.02" height="56.40" fill="none" stroke="#4f6f86" stroke-width="1" />
<text class="n" transform="translate(431.9,327.0) scale(.9,1)">336</text>
<text class="n" transform="translate(431.9,347.0) scale(.9,1)">2</text>
<rect x="420.40" y="380.60" width="23.02" height="55.40" fill="#c5e3f9" stroke="none" stroke-width="0" />
<rect x="420.40" y="414.40" width="23.02" height="21.60" fill="#b0cbdb"/>
<path d="M420.40,416.60H443.42M420.40,419.80H443.42M420.40,423.00H443.42M420.40,426.20H443.42M420.40,429.40H443.42M420.40,432.60H443.42" fill="none" stroke="#ffffff" stroke-width="0.7" opacity=".28"/>
<rect x="420.40" y="380.60" width="23.02" height="55.40" fill="none" stroke="#4f6f86" stroke-width="1" />
<text class="n" transform="translate(431.9,402.0) scale(.9,1)">339</text>
<text class="n" transform="translate(431.9,422.4) scale(.9,1)">2</text>
<rect x="443.42" y="304.60" width="23.02" height="56.40" fill="#c5e3f9" stroke="none" stroke-width="0" />
<rect x="443.42" y="304.60" width="23.02" height="22.40" fill="#b0cbdb"/>
<path d="M443.42,306.80H466.43M443.42,310.00H466.43M443.42,313.20H466.43M443.42,316.40H466.43M443.42,319.60H466.43M443.42,322.80H466.43M443.42,326.00H466.43" fill="none" stroke="#ffffff" stroke-width="0.7" opacity=".28"/>
<rect x="443.42" y="304.60" width="23.02" height="56.40" fill="none" stroke="#4f6f86" stroke-width="1" />
<text class="n" transform="translate(454.9,327.0) scale(.9,1)">334</text>
<text class="n" transform="translate(454.9,347.0) scale(.9,1)">2</text>
<rect x="443.42" y="380.60" width="23.02" height="55.40" fill="#c5e3f9" stroke="none" stroke-width="0" />
<rect x="443.42" y="414.40" width="23.02" height="21.60" fill="#b0cbdb"/>
<path d="M443.42,416.60H466.43M443.42,419.80H466.43M443.42,423.00H466.43M443.42,426.20H466.43M443.42,429.40H466.43M443.42,432.60H466.43" fill="none" stroke="#ffffff" stroke-width="0.7" opacity=".28"/>
<rect x="443.42" y="380.60" width="23.02" height="55.40" fill="none" stroke="#4f6f86" stroke-width="1" />
<text class="n" transform="translate(454.9,402.0) scale(.9,1)">337</text>
<text class="n" transform="translate(454.9,422.4) scale(.9,1)">2</text>
<rect x="466.43" y="304.60" width="23.02" height="56.40" fill="#c5e3f9" stroke="none" stroke-width="0" />
<rect x="466.43" y="304.60" width="23.02" height="22.40" fill="#b0cbdb"/>
<path d="M466.43,306.80H489.45M466.43,310.00H489.45M466.43,313.20H489.45M466.43,316.40H489.45M466.43,319.60H489.45M466.43,322.80H489.45M466.43,326.00H489.45" fill="none" stroke="#ffffff" stroke-width="0.7" opacity=".28"/>
<rect x="466.43" y="304.60" width="23.02" height="56.40" fill="none" stroke="#4f6f86" stroke-width="1" />
<text class="n" transform="translate(477.9,327.0) scale(.9,1)">332</text>
<text class="n" transform="translate(477.9,347.0) scale(.9,1)">2</text>
<rect x="466.43" y="380.60" width="23.02" height="55.40" fill="#c5e3f9" stroke="none" stroke-width="0" />
<rect x="466.43" y="414.40" width="23.02" height="21.60" fill="#b0cbdb"/>
<path d="M466.43,416.60H489.45M466.43,419.80H489.45M466.43,423.00H489.45M466.43,426.20H489.45M466.43,429.40H489.45M466.43,432.60H489.45" fill="none" stroke="#ffffff" stroke-width="0.7" opacity=".28"/>
<rect x="466.43" y="380.60" width="23.02" height="55.40" fill="none" stroke="#4f6f86" stroke-width="1" />
<text class="n" transform="translate(477.9,402.0) scale(.9,1)">335</text>
<text class="n" transform="translate(477.9,422.4) scale(.9,1)">2</text>
<rect x="489.45" y="304.60" width="23.02" height="56.40" fill="#c5e3f9" stroke="none" stroke-width="0" />
<rect x="489.45" y="304.60" width="23.02" height="22.40" fill="#b0cbdb"/>
<path d="M489.45,306.80H512.46M489.45,310.00H512.46M489.45,313.20H512.46M489.45,316.40H512.46M489.45,319.60H512.46M489.45,322.80H512.46M489.45,326.00H512.46" fill="none" stroke="#ffffff" stroke-width="0.7" opacity=".28"/>
<rect x="489.45" y="304.60" width="23.02" height="56.40" fill="none" stroke="#4f6f86" stroke-width="1" />
<text class="n" transform="translate(501.0,327.0) scale(.9,1)">330</text>
<text class="n" transform="translate(501.0,347.0) scale(.9,1)">2</text>
<rect x="489.45" y="380.60" width="23.02" height="55.40" fill="#c5e3f9" stroke="none" stroke-width="0" />
<rect x="489.45" y="414.40" width="23.02" height="21.60" fill="#b0cbdb"/>
<path d="M489.45,416.60H512.46M489.45,419.80H512.46M489.45,423.00H512.46M489.45,426.20H512.46M489.45,429.40H512.46M489.45,432.60H512.46" fill="none" stroke="#ffffff" stroke-width="0.7" opacity=".28"/>
<rect x="489.45" y="380.60" width="23.02" height="55.40" fill="none" stroke="#4f6f86" stroke-width="1" />
<text class="n" transform="translate(501.0,402.0) scale(.9,1)">333</text>
<text class="n" transform="translate(501.0,422.4) scale(.9,1)">2</text>
<rect x="512.46" y="304.60" width="23.02" height="56.40" fill="#c5e3f9" stroke="none" stroke-width="0" />
<rect x="512.46" y="304.60" width="23.02" height="22.40" fill="#b0cbdb"/>
<path d="M512.46,306.80H535.48M512.46,310.00H535.48M512.46,313.20H535.48M512.46,316.40H535.48M512.46,319.60H535.48M512.46,322.80H535.48M512.46,326.00H535.48" fill="none" stroke="#ffffff" stroke-width="0.7" opacity=".28"/>
<rect x="512.46" y="304.60" width="23.02" height="56.40" fill="none" stroke="#4f6f86" stroke-width="1" />
<text class="n" transform="translate(524.0,327.0) scale(.9,1)">328</text>
<text class="n" transform="translate(524.0,347.0) scale(.9,1)">2</text>
<rect x="512.46" y="380.60" width="23.02" height="55.40" fill="#c5e3f9" stroke="none" stroke-width="0" />
<rect x="512.46" y="414.40" width="23.02" height="21.60" fill="#b0cbdb"/>
<path d="M512.46,416.60H535.48M512.46,419.80H535.48M512.46,423.00H535.48M512.46,426.20H535.48M512.46,429.40H535.48M512.46,432.60H535.48" fill="none" stroke="#ffffff" stroke-width="0.7" opacity=".28"/>
<rect x="512.46" y="380.60" width="23.02" height="55.40" fill="none" stroke="#4f6f86" stroke-width="1" />
<text class="n" transform="translate(524.0,402.0) scale(.9,1)">331</text>
<text class="n" transform="translate(524.0,422.4) scale(.9,1)">2</text>
<rect x="535.48" y="304.60" width="23.02" height="56.40" fill="#c5e3f9" stroke="none" stroke-width="0" />
<rect x="535.48" y="304.60" width="23.02" height="22.40" fill="#b0cbdb"/>
<path d="M535.48,306.80H558.49M535.48,310.00H558.49M535.48,313.20H558.49M535.48,316.40H558.49M535.48,319.60H558.49M535.48,322.80H558.49M535.48,326.00H558.49" fill="none" stroke="#ffffff" stroke-width="0.7" opacity=".28"/>
<rect x="535.48" y="304.60" width="23.02" height="56.40" fill="none" stroke="#4f6f86" stroke-width="1" />
<text class="n" transform="translate(547.0,327.0) scale(.9,1)">326</text>
<text class="n" transform="translate(547.0,347.0) scale(.9,1)">2</text>
<rect x="535.48" y="380.60" width="23.02" height="55.40" fill="#c5e3f9" stroke="none" stroke-width="0" />
<rect x="535.48" y="414.40" width="23.02" height="21.60" fill="#b0cbdb"/>
<path d="M535.48,416.60H558.49M535.48,419.80H558.49M535.48,423.00H558.49M535.48,426.20H558.49M535.48,429.40H558.49M535.48,432.60H558.49" fill="none" stroke="#ffffff" stroke-width="0.7" opacity=".28"/>
<rect x="535.48" y="380.60" width="23.02" height="55.40" fill="none" stroke="#4f6f86" stroke-width="1" />
<text class="n" transform="translate(547.0,402.0) scale(.9,1)">329</text>
<text class="n" transform="translate(547.0,422.4) scale(.9,1)">2</text>
<rect x="558.49" y="304.60" width="23.02" height="56.40" fill="#c5e3f9" stroke="none" stroke-width="0" />
<rect x="558.49" y="304.60" width="23.02" height="22.40" fill="#b0cbdb"/>
<path d="M558.49,306.80H581.51M558.49,310.00H581.51M558.49,313.20H581.51M558.49,316.40H581.51M558.49,319.60H581.51M558.49,322.80H581.51M558.49,326.00H581.51" fill="none" stroke="#ffffff" stroke-width="0.7" opacity=".28"/>
<rect x="558.49" y="304.60" width="23.02" height="56.40" fill="none" stroke="#4f6f86" stroke-width="1" />
<text class="n" transform="translate(570.0,327.0) scale(.9,1)">324</text>
<text class="n" transform="translate(570.0,347.0) scale(.9,1)">2</text>
<rect x="558.49" y="380.60" width="23.02" height="55.40" fill="#c5e3f9" stroke="none" stroke-width="0" />
<rect x="558.49" y="414.40" width="23.02" height="21.60" fill="#b0cbdb"/>
<path d="M558.49,416.60H581.51M558.49,419.80H581.51M558.49,423.00H581.51M558.49,426.20H581.51M558.49,429.40H581.51M558.49,432.60H581.51" fill="none" stroke="#ffffff" stroke-width="0.7" opacity=".28"/>
<rect x="558.49" y="380.60" width="23.02" height="55.40" fill="none" stroke="#4f6f86" stroke-width="1" />
<text class="n" transform="translate(570.0,402.0) scale(.9,1)">327</text>
<text class="n" transform="translate(570.0,422.4) scale(.9,1)">2</text>
<rect x="581.51" y="304.60" width="23.02" height="56.40" fill="#c5e3f9" stroke="none" stroke-width="0" />
<rect x="581.51" y="304.60" width="23.02" height="22.40" fill="#b0cbdb"/>
<path d="M581.51,306.80H604.52M581.51,310.00H604.52M581.51,313.20H604.52M581.51,316.40H604.52M581.51,319.60H604.52M581.51,322.80H604.52M581.51,326.00H604.52" fill="none" stroke="#ffffff" stroke-width="0.7" opacity=".28"/>
<rect x="581.51" y="304.60" width="23.02" height="56.40" fill="none" stroke="#4f6f86" stroke-width="1" />
<text class="n" transform="translate(593.0,327.0) scale(.9,1)">322</text>
<text class="n" transform="translate(593.0,347.0) scale(.9,1)">2</text>
<rect x="581.51" y="380.60" width="23.02" height="55.40" fill="#c5e3f9" stroke="none" stroke-width="0" />
<rect x="581.51" y="414.40" width="23.02" height="21.60" fill="#b0cbdb"/>
<path d="M581.51,416.60H604.52M581.51,419.80H604.52M581.51,423.00H604.52M581.51,426.20H604.52M581.51,429.40H604.52M581.51,432.60H604.52" fill="none" stroke="#ffffff" stroke-width="0.7" opacity=".28"/>
<rect x="581.51" y="380.60" width="23.02" height="55.40" fill="none" stroke="#4f6f86" stroke-width="1" />
<text class="n" transform="translate(593.0,402.0) scale(.9,1)">325</text>
<text class="n" transform="translate(593.0,422.4) scale(.9,1)">2</text>
<rect x="604.52" y="304.60" width="23.02" height="56.40" fill="#c5e3f9" stroke="none" stroke-width="0" />
<rect x="604.52" y="304.60" width="23.02" height="22.40" fill="#b0cbdb"/>
<path d="M604.52,306.80H627.54M604.52,310.00H627.54M604.52,313.20H627.54M604.52,316.40H627.54M604.52,319.60H627.54M604.52,322.80H627.54M604.52,326.00H627.54" fill="none" stroke="#ffffff" stroke-width="0.7" opacity=".28"/>
<rect x="604.52" y="304.60" width="23.02" height="56.40" fill="none" stroke="#4f6f86" stroke-width="1" />
<text class="n" transform="translate(616.0,327.0) scale(.9,1)">320</text>
<text class="n" transform="translate(616.0,347.0) scale(.9,1)">2</text>
<rect x="604.52" y="380.60" width="23.02" height="55.40" fill="#c5e3f9" stroke="none" stroke-width="0" />
<rect x="604.52" y="414.40" width="23.02" height="21.60" fill="#b0cbdb"/>
<path d="M604.52,416.60H627.54M604.52,419.80H627.54M604.52,423.00H627.54M604.52,426.20H627.54M604.52,429.40H627.54M604.52,432.60H627.54" fill="none" stroke="#ffffff" stroke-width="0.7" opacity=".28"/>
<rect x="604.52" y="380.60" width="23.02" height="55.40" fill="none" stroke="#4f6f86" stroke-width="1" />
<text class="n" transform="translate(616.0,402.0) scale(.9,1)">323</text>
<text class="n" transform="translate(616.0,422.4) scale(.9,1)">2</text>
<rect x="627.54" y="304.60" width="23.02" height="56.40" fill="#c5e3f9" stroke="none" stroke-width="0" />
<rect x="627.54" y="304.60" width="23.02" height="22.40" fill="#b0cbdb"/>
<path d="M627.54,306.80H650.55M627.54,310.00H650.55M627.54,313.20H650.55M627.54,316.40H650.55M627.54,319.60H650.55M627.54,322.80H650.55M627.54,326.00H650.55" fill="none" stroke="#ffffff" stroke-width="0.7" opacity=".28"/>
<rect x="627.54" y="304.60" width="23.02" height="56.40" fill="none" stroke="#4f6f86" stroke-width="1" />
<text class="n" transform="translate(639.0,327.0) scale(.9,1)">318</text>
<text class="n" transform="translate(639.0,347.0) scale(.9,1)">2</text>
<rect x="627.54" y="380.60" width="23.02" height="55.40" fill="#c5e3f9" stroke="none" stroke-width="0" />
<rect x="627.54" y="414.40" width="23.02" height="21.60" fill="#b0cbdb"/>
<path d="M627.54,416.60H650.55M627.54,419.80H650.55M627.54,423.00H650.55M627.54,426.20H650.55M627.54,429.40H650.55M627.54,432.60H650.55" fill="none" stroke="#ffffff" stroke-width="0.7" opacity=".28"/>
<rect x="627.54" y="380.60" width="23.02" height="55.40" fill="none" stroke="#4f6f86" stroke-width="1" />
<text class="n" transform="translate(639.0,402.0) scale(.9,1)">321</text>
<text class="n" transform="translate(639.0,422.4) scale(.9,1)">2</text>
<rect x="650.55" y="304.60" width="23.02" height="56.40" fill="#c5e3f9" stroke="none" stroke-width="0" />
<rect x="650.55" y="304.60" width="23.02" height="22.40" fill="#b0cbdb"/>
<path d="M650.55,306.80H673.57M650.55,310.00H673.57M650.55,313.20H673.57M650.55,316.40H673.57M650.55,319.60H673.57M650.55,322.80H673.57M650.55,326.00H673.57" fill="none" stroke="#ffffff" stroke-width="0.7" opacity=".28"/>
<rect x="650.55" y="304.60" width="23.02" height="56.40" fill="none" stroke="#4f6f86" stroke-width="1" />
<text class="n" transform="translate(662.1,327.0) scale(.9,1)">316</text>
<text class="n" transform="translate(662.1,347.0) scale(.9,1)">2</text>
<rect x="650.55" y="380.60" width="23.02" height="55.40" fill="#c5e3f9" stroke="none" stroke-width="0" />
<rect x="650.55" y="414.40" width="23.02" height="21.60" fill="#b0cbdb"/>
<path d="M650.55,416.60H673.57M650.55,419.80H673.57M650.55,423.00H673.57M650.55,426.20H673.57M650.55,429.40H673.57M650.55,432.60H673.57" fill="none" stroke="#ffffff" stroke-width="0.7" opacity=".28"/>
<rect x="650.55" y="380.60" width="23.02" height="55.40" fill="none" stroke="#4f6f86" stroke-width="1" />
<text class="n" transform="translate(662.1,402.0) scale(.9,1)">319</text>
<text class="n" transform="translate(662.1,422.4) scale(.9,1)">2</text>
<rect x="673.57" y="304.60" width="23.02" height="56.40" fill="#c5e3f9" stroke="none" stroke-width="0" />
<rect x="673.57" y="304.60" width="23.02" height="22.40" fill="#b0cbdb"/>
<path d="M673.57,306.80H696.58M673.57,310.00H696.58M673.57,313.20H696.58M673.57,316.40H696.58M673.57,319.60H696.58M673.57,322.80H696.58M673.57,326.00H696.58" fill="none" stroke="#ffffff" stroke-width="0.7" opacity=".28"/>
<rect x="673.57" y="304.60" width="23.02" height="56.40" fill="none" stroke="#4f6f86" stroke-width="1" />
<text class="n" transform="translate(685.1,327.0) scale(.9,1)">314</text>
<text class="n" transform="translate(685.1,347.0) scale(.9,1)">2</text>
<rect x="673.57" y="380.60" width="23.02" height="55.40" fill="#c5e3f9" stroke="none" stroke-width="0" />
<rect x="673.57" y="414.40" width="23.02" height="21.60" fill="#b0cbdb"/>
<path d="M673.57,416.60H696.58M673.57,419.80H696.58M673.57,423.00H696.58M673.57,426.20H696.58M673.57,429.40H696.58M673.57,432.60H696.58" fill="none" stroke="#ffffff" stroke-width="0.7" opacity=".28"/>
<rect x="673.57" y="380.60" width="23.02" height="55.40" fill="none" stroke="#4f6f86" stroke-width="1" />
<text class="n" transform="translate(685.1,402.0) scale(.9,1)">317</text>
<text class="n" transform="translate(685.1,422.4) scale(.9,1)">2</text>
<rect x="696.58" y="304.60" width="23.02" height="56.40" fill="#c5e3f9" stroke="none" stroke-width="0" />
<rect x="696.58" y="304.60" width="23.02" height="22.40" fill="#b0cbdb"/>
<path d="M696.58,306.80H719.60M696.58,310.00H719.60M696.58,313.20H719.60M696.58,316.40H719.60M696.58,319.60H719.60M696.58,322.80H719.60M696.58,326.00H719.60" fill="none" stroke="#ffffff" stroke-width="0.7" opacity=".28"/>
<rect x="696.58" y="304.60" width="23.02" height="56.40" fill="none" stroke="#4f6f86" stroke-width="1" />
<text class="n" transform="translate(708.1,327.0) scale(.9,1)">312</text>
<text class="n" transform="translate(708.1,347.0) scale(.9,1)">2</text>
<rect x="696.58" y="380.60" width="23.02" height="55.40" fill="#c5e3f9" stroke="none" stroke-width="0" />
<rect x="696.58" y="414.40" width="23.02" height="21.60" fill="#b0cbdb"/>
<path d="M696.58,416.60H719.60M696.58,419.80H719.60M696.58,423.00H719.60M696.58,426.20H719.60M696.58,429.40H719.60M696.58,432.60H719.60" fill="none" stroke="#ffffff" stroke-width="0.7" opacity=".28"/>
<rect x="696.58" y="380.60" width="23.02" height="55.40" fill="none" stroke="#4f6f86" stroke-width="1" />
<text class="n" transform="translate(708.1,402.0) scale(.9,1)">315</text>
<text class="n" transform="translate(708.1,422.4) scale(.9,1)">2</text>
<rect x="789.40" y="304.60" width="23.00" height="56.40" fill="#c5e3f9" stroke="none" stroke-width="0" />
<rect x="789.40" y="304.60" width="23.00" height="22.40" fill="#b0cbdb"/>
<path d="M789.40,306.80H812.40M789.40,310.00H812.40M789.40,313.20H812.40M789.40,316.40H812.40M789.40,319.60H812.40M789.40,322.80H812.40M789.40,326.00H812.40" fill="none" stroke="#ffffff" stroke-width="0.7" opacity=".28"/>
<rect x="789.40" y="304.60" width="23.00" height="56.40" fill="none" stroke="#4f6f86" stroke-width="1" />
<text class="n" transform="translate(800.9,327.0) scale(.9,1)">308</text>
<text class="n" transform="translate(800.9,347.0) scale(.9,1)">2</text>
<rect x="789.40" y="380.60" width="23.00" height="55.40" fill="#c5e3f9" stroke="none" stroke-width="0" />
<rect x="789.40" y="414.40" width="23.00" height="21.60" fill="#b0cbdb"/>
<path d="M789.40,416.60H812.40M789.40,419.80H812.40M789.40,423.00H812.40M789.40,426.20H812.40M789.40,429.40H812.40M789.40,432.60H812.40" fill="none" stroke="#ffffff" stroke-width="0.7" opacity=".28"/>
<rect x="789.40" y="380.60" width="23.00" height="55.40" fill="none" stroke="#4f6f86" stroke-width="1" />
<text class="n" transform="translate(800.9,402.0) scale(.9,1)">309</text>
<text class="n" transform="translate(800.9,422.4) scale(.9,1)">2</text>
<rect x="812.40" y="304.60" width="23.00" height="56.40" fill="#c5e3f9" stroke="none" stroke-width="0" />
<rect x="812.40" y="304.60" width="23.00" height="22.40" fill="#b0cbdb"/>
<path d="M812.40,306.80H835.40M812.40,310.00H835.40M812.40,313.20H835.40M812.40,316.40H835.40M812.40,319.60H835.40M812.40,322.80H835.40M812.40,326.00H835.40" fill="none" stroke="#ffffff" stroke-width="0.7" opacity=".28"/>
<rect x="812.40" y="304.60" width="23.00" height="56.40" fill="none" stroke="#4f6f86" stroke-width="1" />
<text class="n" transform="translate(823.9,327.0) scale(.9,1)">306</text>
<text class="n" transform="translate(823.9,347.0) scale(.9,1)">2</text>
<rect x="812.40" y="380.60" width="23.00" height="55.40" fill="#c5e3f9" stroke="none" stroke-width="0" />
<rect x="812.40" y="414.40" width="23.00" height="21.60" fill="#b0cbdb"/>
<path d="M812.40,416.60H835.40M812.40,419.80H835.40M812.40,423.00H835.40M812.40,426.20H835.40M812.40,429.40H835.40M812.40,432.60H835.40" fill="none" stroke="#ffffff" stroke-width="0.7" opacity=".28"/>
<rect x="812.40" y="380.60" width="23.00" height="55.40" fill="none" stroke="#4f6f86" stroke-width="1" />
<text class="n" transform="translate(823.9,402.0) scale(.9,1)">307</text>
<text class="n" transform="translate(823.9,422.4) scale(.9,1)">2</text>
<rect x="835.40" y="304.60" width="23.00" height="56.40" fill="#c5e3f9" stroke="none" stroke-width="0" />
<rect x="835.40" y="304.60" width="23.00" height="22.40" fill="#b0cbdb"/>
<path d="M835.40,306.80H858.40M835.40,310.00H858.40M835.40,313.20H858.40M835.40,316.40H858.40M835.40,319.60H858.40M835.40,322.80H858.40M835.40,326.00H858.40" fill="none" stroke="#ffffff" stroke-width="0.7" opacity=".28"/>
<rect x="835.40" y="304.60" width="23.00" height="56.40" fill="none" stroke="#4f6f86" stroke-width="1" />
<text class="n" transform="translate(846.9,327.0) scale(.9,1)">304</text>
<text class="n" transform="translate(846.9,347.0) scale(.9,1)">2</text>
<rect x="835.40" y="380.60" width="23.00" height="55.40" fill="#c5e3f9" stroke="none" stroke-width="0" />
<rect x="835.40" y="414.40" width="23.00" height="21.60" fill="#b0cbdb"/>
<path d="M835.40,416.60H858.40M835.40,419.80H858.40M835.40,423.00H858.40M835.40,426.20H858.40M835.40,429.40H858.40M835.40,432.60H858.40" fill="none" stroke="#ffffff" stroke-width="0.7" opacity=".28"/>
<rect x="835.40" y="380.60" width="23.00" height="55.40" fill="none" stroke="#4f6f86" stroke-width="1" />
<text class="n" transform="translate(846.9,402.0) scale(.9,1)">305</text>
<text class="n" transform="translate(846.9,422.4) scale(.9,1)">2</text>
<rect x="858.40" y="304.60" width="23.00" height="56.40" fill="#c5e3f9" stroke="none" stroke-width="0" />
<rect x="858.40" y="304.60" width="23.00" height="22.40" fill="#b0cbdb"/>
<path d="M858.40,306.80H881.40M858.40,310.00H881.40M858.40,313.20H881.40M858.40,316.40H881.40M858.40,319.60H881.40M858.40,322.80H881.40M858.40,326.00H881.40" fill="none" stroke="#ffffff" stroke-width="0.7" opacity=".28"/>
<rect x="858.40" y="304.60" width="23.00" height="56.40" fill="none" stroke="#4f6f86" stroke-width="1" />
<text class="n" transform="translate(869.9,327.0) scale(.9,1)">302</text>
<text class="n" transform="translate(869.9,347.0) scale(.9,1)">2</text>
<rect x="858.40" y="380.60" width="23.00" height="55.40" fill="#c5e3f9" stroke="none" stroke-width="0" />
<rect x="858.40" y="414.40" width="23.00" height="21.60" fill="#b0cbdb"/>
<path d="M858.40,416.60H881.40M858.40,419.80H881.40M858.40,423.00H881.40M858.40,426.20H881.40M858.40,429.40H881.40M858.40,432.60H881.40" fill="none" stroke="#ffffff" stroke-width="0.7" opacity=".28"/>
<rect x="858.40" y="380.60" width="23.00" height="55.40" fill="none" stroke="#4f6f86" stroke-width="1" />
<text class="n" transform="translate(869.9,402.0) scale(.9,1)">303</text>
<text class="n" transform="translate(869.9,422.4) scale(.9,1)">2</text>
<clipPath id="c310"><path d="M743.4,304.6H789.4V361H769.4V353L754.4,338H743.4Z"/></clipPath>
<clipPath id="c311"><path d="M743.4,436H789.4V380.6H769.4V388.6L754.4,403.6H743.4Z"/></clipPath>
<path d="M743.4,304.6H789.4V361H769.4V353L754.4,338H743.4Z" fill="#fffb8e" stroke="none" stroke-width="0" />
<rect x="743.4" y="304.6" width="46" height="22.4" fill="#ebe57c" clip-path="url(#c310)"/>
<path d="M743.4,306.8H789.4M743.4,310.0H789.4M743.4,313.2H789.4M743.4,316.4H789.4M743.4,319.6H789.4M743.4,322.8H789.4M743.4,326.0H789.4" fill="none" stroke="#ffffff" stroke-width="0.7" opacity=".28"/>
<path d="M743.4,304.6H789.4V361H769.4V353L754.4,338H743.4Z" fill="none" stroke="#8f8c4a" stroke-width="1" />
<path d="M743.4,436H789.4V380.6H769.4V388.6L754.4,403.6H743.4Z" fill="#fffb8e" stroke="none" stroke-width="0" />
<rect x="743.4" y="414.4" width="46" height="21.6" fill="#ebe57c" clip-path="url(#c311)"/>
<path d="M743.4,416.6H789.4M743.4,419.8H789.4M743.4,423.0H789.4M743.4,426.2H789.4M743.4,429.4H789.4M743.4,432.6H789.4M743.4,435.8H789.4" fill="none" stroke="#ffffff" stroke-width="0.7" opacity=".28"/>
<path d="M743.4,436H789.4V380.6H769.4V388.6L754.4,403.6H743.4Z" fill="none" stroke="#8f8c4a" stroke-width="1" />
<text class="n" transform="translate(765.0,331.8) scale(.9,1)">310</text>
<text class="n" transform="translate(765.4,350.4) scale(.9,1)">2</text>
<text class="n" transform="translate(765.0,396.0) scale(.9,1)">311</text>
<text class="n" transform="translate(765.0,420.0) scale(.9,1)">2</text>
<rect x="728.50" y="349.50" width="11.00" height="15.00" fill="#fff" stroke="#4a4a4a" stroke-width="0.9" />
<path d="M728.5,353.5H739.5M728.5,357.5H739.5M728.5,360.5H739.5" fill="none" stroke="#4a4a4a" stroke-width="0.8" />
<rect x="728.50" y="376.50" width="11.00" height="15.00" fill="#fff" stroke="#4a4a4a" stroke-width="0.9" />
<path d="M728.5,380.5H739.5M728.5,384.5H739.5M728.5,387.5H739.5" fill="none" stroke="#4a4a4a" stroke-width="0.8" />
<rect x="728.40" y="364.60" width="11.20" height="11.40" fill="#fff" stroke="#555" stroke-width="0.9" />
<rect x="739.50" y="364.50" width="20.00" height="12.00" fill="#fff" stroke="#4a4a4a" stroke-width="0.9" />
<path d="M743.5,364.5V376.5M747.5,364.5V376.5M751.5,364.5V376.5M755.5,364.5V376.5" fill="none" stroke="#4a4a4a" stroke-width="0.8" />
<clipPath id="c300"><path d="M881.4,304.6C900,305 917,307.6 928,311.6L933.6,326.2L909.6,346L910,352L911,370.8H891.5V361H881.4Z"/></clipPath>
<path d="M881.4,304.6C900,305 917,307.6 928,311.6L933.6,326.2L909.6,346L910,352L911,370.8H891.5V361H881.4Z" fill="#fccd9f" stroke="none" stroke-width="0" />
<clipPath id="c301"><path d="M881.4,436C900,435.6 917,433.4 928,429.4L933.6,414.8L909.6,395.2L910,389L911,370.8H891.5V380.6H881.4Z"/></clipPath>
<path d="M881.4,436C900,435.6 917,433.4 928,429.4L933.6,414.8L909.6,395.2L910,389L911,370.8H891.5V380.6H881.4Z" fill="#fccd9f" stroke="none" stroke-width="0" />
<g clip-path="url(#c300)">
<path d="M880,300.0H940V350.0H905.5V333.0Q905.5,328.0 900,328.0H880Z" fill="#f5c491"/>
<path d="M880,309.5H921.0Q926.0,309.5 926.0,314.5V350.0M880,313.5H916.8Q921.8,313.5 921.8,318.5V350.0M880,317.5H912.6Q917.6,317.5 917.6,322.5V350.0M880,321.5H908.4Q913.4,321.5 913.4,326.5V350.0M880,325.5H904.2Q909.2,325.5 909.2,330.5V350.0" fill="none" stroke="#fbd5ab" stroke-width="1.3" opacity=".8"/>
</g>
<g clip-path="url(#c301)">
<path d="M880,441.2H940V391.2H905.5V408.2Q905.5,413.2 900,413.2H880Z" fill="#f5c491"/>
<path d="M880,431.7H921.0Q926.0,431.7 926.0,426.7V391.2M880,427.7H916.8Q921.8,427.7 921.8,422.7V391.2M880,423.7H912.6Q917.6,423.7 917.6,418.7V391.2M880,419.7H908.4Q913.4,419.7 913.4,414.7V391.2M880,415.7H904.2Q909.2,415.7 909.2,410.7V391.2" fill="none" stroke="#fbd5ab" stroke-width="1.3" opacity=".8"/>
</g>
<path d="M881.4,304.6C900,305 917,307.6 928,311.6L933.6,326.2L909.6,346L910,352L911,370.8H891.5V361H881.4Z" fill="none" stroke="#a98660" stroke-width="1" />
<path d="M881.4,436C900,435.6 917,433.4 928,429.4L933.6,414.8L909.6,395.2L910,389L911,370.8H891.5V380.6H881.4Z" fill="none" stroke="#a98660" stroke-width="1" />
<path d="M891.5,370.8H911" fill="none" stroke="#7a5e40" stroke-width="1.5" />
<text class="n" transform="translate(903.0,331.8) scale(.9,1)">300</text>
<text class="n" transform="translate(903.0,354.0) scale(.9,1)">2</text>
<text class="n" transform="translate(903.0,394.4) scale(.9,1)">301</text>
<text class="n" transform="translate(903.0,418.0) scale(.9,1)">2</text>
<path d="M933.6,326H944.4V320.4C962,330 980,345 987.6,355V384.4C980,395 962,411 944.4,420.6V414.6H933.6" fill="none" stroke="#777" stroke-width="1" />
<path d="M240,303H881A118,67 0 0 1 881,437H240C160,437 90,435 33,420.2C24,417 18,395 18,370C18,345 24,323 33,319.8C90,305 160,303 240,303Z" fill="none" stroke="#000" stroke-width="2.0" />
</g>
<g id="deck4">
<clipPath id="h4"><path d="M150,459.6H810C870,460 958,493 974.3,523Q976.2,526 974.3,529C958,559 870,592.2 810,592.6H150C110,592.6 60,587 15,576.5C6,573 2,550 2,526C2,502 6,479 15,475.5C60,465 110,459.6 150,459.6Z"/></clipPath>
<path d="M150,459.6H810C870,460 958,493 974.3,523Q976.2,526 974.3,529C958,559 870,592.2 810,592.6H150C110,592.6 60,587 15,576.5C6,573 2,550 2,526C2,502 6,479 15,475.5C60,465 110,459.6 150,459.6Z" fill="#d4e0e9" stroke="none" stroke-width="0" />
<g clip-path="url(#h4)"><rect x="876" y="455" width="110" height="145" fill="#fff"/></g>
<path d="M43,482.2L138,470.7H723.6V582.2H138L43,570Z" fill="#fff" stroke="#7d8890" stroke-width="1" />
<rect x="825.60" y="478.00" width="50.40" height="96.40" fill="#fff" stroke="none" stroke-width="0" />
<path d="M825.6,478H876M825.6,574.4H876" fill="none" stroke="#555a5e" stroke-width="1" />
<g clip-path="url(#h4)">
<path d="M876,455V600" fill="none" stroke="#8d8d8d" stroke-width="1.2" />
<path d="M908.4,470V585" fill="none" stroke="#666" stroke-width="1" />
</g>
<rect x="825.60" y="519.60" width="62.00" height="13.40" fill="#fff" stroke="#666" stroke-width="1" />
<path d="M887.6,526H908.4" fill="none" stroke="#666" stroke-width="1" />
<path d="M257.5,470.7V582.2M257.5,504.5H372.5V470.7M257.5,515.5H351M297.5,515.5V548.2M257.5,548.2H372.5V582.2" fill="none" stroke="#555a5e" stroke-width="1" />
<path d="M297.5,537H351M372.5,477.6H418.3" fill="none" stroke="#999" stroke-width="1.2" />
<path d="M372.5,491.4H418.3M372.5,561.3H418.3M372.5,574.4H418.3" fill="none" stroke="#555a5e" stroke-width="1" />
<rect x="418.40" y="470.40" width="23.00" height="36.00" fill="#a6d5fa" stroke="none" stroke-width="0" />
<rect x="418.40" y="470.40" width="23.00" height="36.00" fill="none" stroke="#3f6a8a" stroke-width="1" />
<text class="n" transform="translate(429.9,485.0) scale(.9,1)">222</text>
<text class="n" transform="translate(429.9,499.4) scale(.9,1)">2</text>
<rect x="418.40" y="546.40" width="23.00" height="36.00" fill="#a6d5fa" stroke="none" stroke-width="0" />
<rect x="418.40" y="546.40" width="23.00" height="36.00" fill="none" stroke="#3f6a8a" stroke-width="1" />
<text class="n" transform="translate(429.9,561.4) scale(.9,1)">225</text>
<text class="n" transform="translate(429.9,575.0) scale(.9,1)">2</text>
<rect x="441.40" y="470.40" width="23.00" height="36.00" fill="#a6d5fa" stroke="none" stroke-width="0" />
<rect x="441.40" y="470.40" width="23.00" height="36.00" fill="none" stroke="#3f6a8a" stroke-width="1" />
<text class="n" transform="translate(452.9,485.0) scale(.9,1)">220</text>
<text class="n" transform="translate(452.9,499.4) scale(.9,1)">2</text>
<rect x="441.40" y="546.40" width="23.00" height="36.00" fill="#a6d5fa" stroke="none" stroke-width="0" />
<rect x="441.40" y="546.40" width="23.00" height="36.00" fill="none" stroke="#3f6a8a" stroke-width="1" />
<text class="n" transform="translate(452.9,561.4) scale(.9,1)">223</text>
<text class="n" transform="translate(452.9,575.0) scale(.9,1)">2</text>
<rect x="464.40" y="470.40" width="23.00" height="36.00" fill="#a6d5fa" stroke="none" stroke-width="0" />
<rect x="464.40" y="470.40" width="23.00" height="36.00" fill="none" stroke="#3f6a8a" stroke-width="1" />
<text class="n" transform="translate(475.9,485.0) scale(.9,1)">218</text>
<text class="n" transform="translate(475.9,499.4) scale(.9,1)">2</text>
<rect x="464.40" y="546.40" width="23.00" height="36.00" fill="#a6d5fa" stroke="none" stroke-width="0" />
<rect x="464.40" y="546.40" width="23.00" height="36.00" fill="none" stroke="#3f6a8a" stroke-width="1" />
<text class="n" transform="translate(475.9,561.4) scale(.9,1)">221</text>
<text class="n" transform="translate(475.9,575.0) scale(.9,1)">2</text>
<rect x="487.40" y="470.40" width="23.00" height="36.00" fill="#a6d5fa" stroke="none" stroke-width="0" />
<rect x="487.40" y="470.40" width="23.00" height="36.00" fill="none" stroke="#3f6a8a" stroke-width="1" />
<text class="n" transform="translate(498.9,485.0) scale(.9,1)">216</text>
<text class="n" transform="translate(498.9,499.4) scale(.9,1)">2</text>
<rect x="487.40" y="546.40" width="23.00" height="36.00" fill="#a6d5fa" stroke="none" stroke-width="0" />
<rect x="487.40" y="546.40" width="23.00" height="36.00" fill="none" stroke="#3f6a8a" stroke-width="1" />
<text class="n" transform="translate(498.9,561.4) scale(.9,1)">219</text>
<text class="n" transform="translate(498.9,575.0) scale(.9,1)">2</text>
<rect x="510.40" y="470.40" width="23.00" height="36.00" fill="#a6d5fa" stroke="none" stroke-width="0" />
<rect x="510.40" y="470.40" width="23.00" height="36.00" fill="none" stroke="#3f6a8a" stroke-width="1" />
<text class="n" transform="translate(521.9,485.0) scale(.9,1)">214</text>
<text class="n" transform="translate(521.9,499.4) scale(.9,1)">2</text>
<rect x="510.40" y="546.40" width="23.00" height="36.00" fill="#a6d5fa" stroke="none" stroke-width="0" />
<rect x="510.40" y="546.40" width="23.00" height="36.00" fill="none" stroke="#3f6a8a" stroke-width="1" />
<text class="n" transform="translate(521.9,561.4) scale(.9,1)">217</text>
<text class="n" transform="translate(521.9,575.0) scale(.9,1)">2</text>
<rect x="533.40" y="470.40" width="23.00" height="36.00" fill="#a6d5fa" stroke="none" stroke-width="0" />
<rect x="533.40" y="470.40" width="23.00" height="36.00" fill="none" stroke="#3f6a8a" stroke-width="1" />
<text class="n" transform="translate(544.9,485.0) scale(.9,1)">212</text>
<text class="n" transform="translate(544.9,499.4) scale(.9,1)">2</text>
<rect x="533.40" y="546.40" width="23.00" height="36.00" fill="#a6d5fa" stroke="none" stroke-width="0" />
<rect x="533.40" y="546.40" width="23.00" height="36.00" fill="none" stroke="#3f6a8a" stroke-width="1" />
<text class="n" transform="translate(544.9,561.4) scale(.9,1)">215</text>
<text class="n" transform="translate(544.9,575.0) scale(.9,1)">2</text>
<rect x="556.40" y="470.40" width="23.00" height="36.00" fill="#a6d5fa" stroke="none" stroke-width="0" />
<rect x="556.40" y="470.40" width="23.00" height="36.00" fill="none" stroke="#3f6a8a" stroke-width="1" />
<text class="n" transform="translate(567.9,485.0) scale(.9,1)">210</text>
<text class="n" transform="translate(567.9,499.4) scale(.9,1)">2</text>
<rect x="556.40" y="546.40" width="23.00" height="36.00" fill="#a6d5fa" stroke="none" stroke-width="0" />
<rect x="556.40" y="546.40" width="23.00" height="36.00" fill="none" stroke="#3f6a8a" stroke-width="1" />
<text class="n" transform="translate(567.9,561.4) scale(.9,1)">211</text>
<text class="n" transform="translate(567.9,575.0) scale(.9,1)">2</text>
<rect x="579.40" y="470.40" width="23.00" height="36.00" fill="#a6d5fa" stroke="none" stroke-width="0" />
<rect x="579.40" y="470.40" width="23.00" height="36.00" fill="none" stroke="#3f6a8a" stroke-width="1" />
<text class="n" transform="translate(590.9,485.0) scale(.9,1)">208</text>
<text class="n" transform="translate(590.9,499.4) scale(.9,1)">2</text>
<rect x="579.40" y="546.40" width="23.00" height="36.00" fill="#a6d5fa" stroke="none" stroke-width="0" />
<rect x="579.40" y="546.40" width="23.00" height="36.00" fill="none" stroke="#3f6a8a" stroke-width="1" />
<text class="n" transform="translate(590.9,561.4) scale(.9,1)">209</text>
<text class="n" transform="translate(590.9,575.0) scale(.9,1)">2</text>
<rect x="602.40" y="470.40" width="23.00" height="36.00" fill="#a6d5fa" stroke="none" stroke-width="0" />
<rect x="602.40" y="470.40" width="23.00" height="36.00" fill="none" stroke="#3f6a8a" stroke-width="1" />
<text class="n" transform="translate(613.9,485.0) scale(.9,1)">206</text>
<text class="n" transform="translate(613.9,499.4) scale(.9,1)">2</text>
<rect x="602.40" y="546.40" width="23.00" height="36.00" fill="#a6d5fa" stroke="none" stroke-width="0" />
<rect x="602.40" y="546.40" width="23.00" height="36.00" fill="none" stroke="#3f6a8a" stroke-width="1" />
<text class="n" transform="translate(613.9,561.4) scale(.9,1)">207</text>
<text class="n" transform="translate(613.9,575.0) scale(.9,1)">2</text>
<rect x="625.40" y="470.40" width="23.00" height="36.00" fill="#a6d5fa" stroke="none" stroke-width="0" />
<rect x="625.40" y="470.40" width="23.00" height="36.00" fill="none" stroke="#3f6a8a" stroke-width="1" />
<text class="n" transform="translate(636.9,485.0) scale(.9,1)">204</text>
<text class="n" transform="translate(636.9,499.4) scale(.9,1)">2</text>
<rect x="625.40" y="546.40" width="23.00" height="36.00" fill="#a6d5fa" stroke="none" stroke-width="0" />
<rect x="625.40" y="546.40" width="23.00" height="36.00" fill="none" stroke="#3f6a8a" stroke-width="1" />
<text class="n" transform="translate(636.9,561.4) scale(.9,1)">205</text>
<text class="n" transform="translate(636.9,575.0) scale(.9,1)">2</text>
<rect x="648.40" y="470.40" width="23.00" height="36.00" fill="#a6d5fa" stroke="none" stroke-width="0" />
<rect x="648.40" y="470.40" width="23.00" height="36.00" fill="none" stroke="#3f6a8a" stroke-width="1" />
<text class="n" transform="translate(659.9,485.0) scale(.9,1)">202</text>
<text class="n" transform="translate(659.9,499.4) scale(.9,1)">2</text>
<rect x="648.40" y="546.40" width="23.00" height="36.00" fill="#a6d5fa" stroke="none" stroke-width="0" />
<rect x="648.40" y="546.40" width="23.00" height="36.00" fill="none" stroke="#3f6a8a" stroke-width="1" />
<text class="n" transform="translate(659.9,561.4) scale(.9,1)">203</text>
<text class="n" transform="translate(659.9,575.0) scale(.9,1)">2</text>
<rect x="671.40" y="470.40" width="23.00" height="36.00" fill="#a6d5fa" stroke="none" stroke-width="0" />
<rect x="671.40" y="470.40" width="23.00" height="36.00" fill="none" stroke="#3f6a8a" stroke-width="1" />
<text class="n" transform="translate(682.9,485.0) scale(.9,1)">200</text>
<text class="n" transform="translate(682.9,499.4) scale(.9,1)">2</text>
<rect x="671.40" y="546.40" width="23.00" height="36.00" fill="#a6d5fa" stroke="none" stroke-width="0" />
<rect x="671.40" y="546.40" width="23.00" height="36.00" fill="none" stroke="#3f6a8a" stroke-width="1" />
<text class="n" transform="translate(682.9,561.4) scale(.9,1)">201</text>
<text class="n" transform="translate(682.9,575.0) scale(.9,1)">2</text>
<rect x="694.40" y="470.40" width="29.20" height="112.00" fill="#fcfcfc" stroke="none" stroke-width="0" />
<path d="M694.4,470.4H723.6V582.4H694.4" fill="none" stroke="#888" stroke-width="1" />
<clipPath id="rc4"><path d="M723.6,478H825.6V574.4H723.6Z"/></clipPath>
<g clip-path="url(#rc4)"><path d="M723.6,478H825.6V574.4H723.6Z" fill="#8cadc0"/><path d="M723.6,478H825.6V574.4H723.6Z" fill="none" stroke="#1f5a7c" stroke-width="5.5" filter="url(#b15)"/><path d="M723.6,478H825.6V574.4H723.6Z" fill="none" stroke="#0f4a6a" stroke-width="2.2" filter="url(#b05)"/></g><path d="M723.6,478H825.6V574.4H723.6Z" fill="none" stroke="#33556b" stroke-width=".7" opacity=".8"/>
<rect x="750.40" y="478.00" width="7.20" height="13.40" fill="#fff" stroke="#444" stroke-width="0.9" />
<rect x="757.60" y="478.00" width="16.80" height="23.00" fill="#fff" stroke="#444" stroke-width="0.9" />
<rect x="750.40" y="561.60" width="7.20" height="12.80" fill="#fff" stroke="#444" stroke-width="0.9" />
<rect x="757.60" y="551.60" width="16.80" height="22.80" fill="#fff" stroke="#444" stroke-width="0.9" />
<rect x="787.40" y="521.40" width="29.20" height="10.00" fill="#fff" stroke="#444" stroke-width="0.9" />
<rect x="728.50" y="505.50" width="11.00" height="15.00" fill="#fff" stroke="#4a4a4a" stroke-width="0.9" />
<path d="M728.5,509.5H739.5M728.5,513.5H739.5M728.5,516.5H739.5" fill="none" stroke="#4a4a4a" stroke-width="0.8" />
<rect x="728.50" y="532.50" width="11.00" height="15.00" fill="#fff" stroke="#4a4a4a" stroke-width="0.9" />
<path d="M728.5,536.5H739.5M728.5,540.5H739.5M728.5,543.5H739.5" fill="none" stroke="#4a4a4a" stroke-width="0.8" />
<rect x="728.00" y="520.40" width="11.60" height="11.60" fill="#fff" stroke="#555" stroke-width="0.9" />
<rect x="739.50" y="520.50" width="20.00" height="12.00" fill="#fff" stroke="#4a4a4a" stroke-width="0.9" />
<path d="M743.5,520.5V532.5M747.5,520.5V532.5M751.5,520.5V532.5M755.5,520.5V532.5" fill="none" stroke="#4a4a4a" stroke-width="0.8" />
<rect x="351" y="516" width="21.50" height="21.00" fill="#ef151c"/>
<path d="M357.24,519.36H366.69v2.5H360.04V524.83H366.09v2.5H360.04V530.30H366.69v2.5H357.24Z" fill="#fff"/>
<rect x="401.50" y="505.50" width="12.00" height="15.00" fill="#fff" stroke="#4a4a4a" stroke-width="0.9" />
<path d="M401.5,509.5H413.5M401.5,513.5H413.5M401.5,516.5H413.5" fill="none" stroke="#4a4a4a" stroke-width="0.8" />
<rect x="401.50" y="532.50" width="12.00" height="15.00" fill="#fff" stroke="#4a4a4a" stroke-width="0.9" />
<path d="M401.5,536.5H413.5M401.5,540.5H413.5M401.5,543.5H413.5" fill="none" stroke="#4a4a4a" stroke-width="0.8" />
<rect x="401.70" y="520.60" width="11.50" height="11.50" fill="#fff" stroke="#555" stroke-width="0.9" />
<rect x="382.50" y="520.50" width="19.00" height="12.00" fill="#fff" stroke="#4a4a4a" stroke-width="0.9" />
<path d="M386.5,520.5V532.5M390.5,520.5V532.5M393.5,520.5V532.5M397.5,520.5V532.5" fill="none" stroke="#4a4a4a" stroke-width="0.8" />
<rect x="427.50" y="520.50" width="29.00" height="12.00" fill="#fff" stroke="#4a4a4a" stroke-width="0.9" />
<path d="M431.5,520.5V532.5M434.5,520.5V532.5M438.5,520.5V532.5M442.5,520.5V532.5M445.5,520.5V532.5M449.5,520.5V532.5M452.5,520.5V532.5" fill="none" stroke="#4a4a4a" stroke-width="0.8" />
<clipPath id="rc5"><path d="M470,515.6H575V536.6H470Z"/></clipPath>
<g clip-path="url(#rc5)"><path d="M470,515.6H575V536.6H470Z" fill="#8cadc0"/><path d="M470,515.6H575V536.6H470Z" fill="none" stroke="#1f5a7c" stroke-width="5.5" filter="url(#b15)"/><path d="M470,515.6H575V536.6H470Z" fill="none" stroke="#0f4a6a" stroke-width="2.2" filter="url(#b05)"/></g><path d="M470,515.6H575V536.6H470Z" fill="none" stroke="#33556b" stroke-width=".7" opacity=".8"/>
<rect x="574.40" y="515.60" width="31.20" height="21.40" fill="#fff" stroke="#777" stroke-width="0.9" />
<rect x="574.50" y="520.50" width="31.00" height="12.00" fill="#fff" stroke="#4a4a4a" stroke-width="0.9" />
<path d="M578.5,520.5V532.5M582.5,520.5V532.5M586.5,520.5V532.5M590.5,520.5V532.5M593.5,520.5V532.5M597.5,520.5V532.5M601.5,520.5V532.5" fill="none" stroke="#4a4a4a" stroke-width="0.8" />
<clipPath id="rc6"><path d="M639,515.6H690V537H639Z"/></clipPath>
<g clip-path="url(#rc6)"><path d="M639,515.6H690V537H639Z" fill="#8cadc0"/><path d="M639,515.6H690V537H639Z" fill="none" stroke="#1f5a7c" stroke-width="5.5" filter="url(#b15)"/><path d="M639,515.6H690V537H639Z" fill="none" stroke="#0f4a6a" stroke-width="2.2" filter="url(#b05)"/></g><path d="M639,515.6H690V537H639Z" fill="none" stroke="#33556b" stroke-width=".7" opacity=".8"/>
<path d="M150,459.6H810C870,460 958,493 974.3,523Q976.2,526 974.3,529C958,559 870,592.2 810,592.6H150C110,592.6 60,587 15,576.5C6,573 2,550 2,526C2,502 6,479 15,475.5C60,465 110,459.6 150,459.6Z" fill="none" stroke="#000" stroke-width="2.2" />
</g>
<g id="deck5">
<clipPath id="h5"><path d="M150,616H810C870,616.4 958,650 974.3,679.6Q976.2,682.5 974.3,685.4C958,715 870,748.6 810,749H150C110,749 60,741 30,726C14,717 1.5,701 1.5,682.5C1.5,664 14,648 30,639C60,624 110,616 150,616Z"/></clipPath>
<path d="M150,616H810C870,616.4 958,650 974.3,679.6Q976.2,682.5 974.3,685.4C958,715 870,748.6 810,749H150C110,749 60,741 30,726C14,717 1.5,701 1.5,682.5C1.5,664 14,648 30,639C60,624 110,616 150,616Z" fill="#fff" stroke="none" stroke-width="0" />
<path d="M150,618.6H810C869,619 954,652 970.6,680.2Q972.2,682.5 970.6,684.8C954,713 869,746 810,746.4H150" fill="none" stroke="#666" stroke-width="0.9" />
<path d="M299.5,618.6V747M330.6,618.6V645.3H436M330.6,633.3H314.5V670.8H299.5M299.5,693.6H321.6V747M321.6,719.4H436M436,618.6V747" fill="none" stroke="#555a5e" stroke-width="1" />
<rect x="341.40" y="656.30" width="77.30" height="51.80" fill="#fff" stroke="#555a5e" stroke-width="1" />
<path d="M43.5,645H94.5V718.5H43.5ZM84,628V645M135,620V660M258,618.6V747M289,618.6V747M258,720H289" fill="none" stroke="#999" stroke-width="1" />
<path d="M502.7,661.2H605M605,618.6V747M605,645.3H798.3V661.4H856.6M605,719.4H798.3V703.5H856.6" fill="none" stroke="#555a5e" stroke-width="1" />
<g clip-path="url(#h5)">
<path d="M856.6,610V755" fill="none" stroke="#555a5e" stroke-width="1" />
</g>
<path d="M621.4,656.3H788.1V671.3H840.5V693H788.1V708.1H621.4Z" fill="none" stroke="#555a5e" stroke-width="1" />
<rect x="436.00" y="618.90" width="22.20" height="42.30" fill="#90d0a8" stroke="none" stroke-width="0" />
<rect x="436.00" y="618.90" width="22.20" height="42.30" fill="none" stroke="#3d7352" stroke-width="1" />
<text class="n" transform="translate(447.1,636.1) scale(.9,1)">104</text>
<text class="n" transform="translate(447.1,652.2) scale(.9,1)">2</text>
<rect x="458.20" y="618.90" width="22.30" height="42.30" fill="#90d0a8" stroke="none" stroke-width="0" />
<rect x="458.20" y="618.90" width="22.30" height="42.30" fill="none" stroke="#3d7352" stroke-width="1" />
<text class="n" transform="translate(469.4,636.1) scale(.9,1)">102</text>
<text class="n" transform="translate(469.4,652.2) scale(.9,1)">2</text>
<rect x="480.50" y="618.90" width="22.20" height="42.30" fill="#90d0a8" stroke="none" stroke-width="0" />
<rect x="480.50" y="618.90" width="22.20" height="42.30" fill="none" stroke="#3d7352" stroke-width="1" />
<text class="n" transform="translate(491.6,636.1) scale(.9,1)">100</text>
<text class="n" transform="translate(491.6,652.2) scale(.9,1)">2</text>
<rect x="436.00" y="703.50" width="22.20" height="42.90" fill="#90d0a8" stroke="none" stroke-width="0" />
<rect x="436.00" y="703.50" width="22.20" height="42.90" fill="none" stroke="#3d7352" stroke-width="1" />
<text class="n" transform="translate(447.1,721.2) scale(.9,1)">103</text>
<text class="n" transform="translate(447.1,736.8) scale(.9,1)">2</text>
<rect x="458.20" y="703.50" width="22.30" height="42.90" fill="#90d0a8" stroke="none" stroke-width="0" />
<rect x="458.20" y="703.50" width="22.30" height="42.90" fill="none" stroke="#3d7352" stroke-width="1" />
<text class="n" transform="translate(469.4,721.2) scale(.9,1)">101</text>
<text class="n" transform="translate(469.4,736.8) scale(.9,1)">2</text>
<rect x="453.20" y="672.40" width="101.20" height="20.70" fill="#fff" stroke="#555a5e" stroke-width="1" />
<rect x="453.50" y="677.50" width="31.00" height="11.00" fill="#fff" stroke="#4a4a4a" stroke-width="0.9" />
<path d="M457.5,677.5V688.5M461.5,677.5V688.5M465.5,677.5V688.5M469.5,677.5V688.5M472.5,677.5V688.5M476.5,677.5V688.5M480.5,677.5V688.5" fill="none" stroke="#4a4a4a" stroke-width="0.8" />
<rect x="574.60" y="672.40" width="30.40" height="20.70" fill="#fff" stroke="#555a5e" stroke-width="1" />
<rect x="576.50" y="677.50" width="29.00" height="11.00" fill="#fff" stroke="#4a4a4a" stroke-width="0.9" />
<path d="M580.5,677.5V688.5M583.5,677.5V688.5M587.5,677.5V688.5M591.5,677.5V688.5M594.5,677.5V688.5M598.5,677.5V688.5M601.5,677.5V688.5" fill="none" stroke="#4a4a4a" stroke-width="0.8" />
<clipPath id="rc7"><path d="M480.8,703.5H537.4V746.4H480.8Z"/></clipPath>
<g clip-path="url(#rc7)"><path d="M480.8,703.5H537.4V746.4H480.8Z" fill="#8cadc0"/><path d="M480.8,703.5H537.4V746.4H480.8Z" fill="none" stroke="#1f5a7c" stroke-width="5.5" filter="url(#b15)"/><path d="M480.8,703.5H537.4V746.4H480.8Z" fill="none" stroke="#0f4a6a" stroke-width="2.2" filter="url(#b05)"/></g><path d="M480.8,703.5H537.4V746.4H480.8Z" fill="none" stroke="#33556b" stroke-width=".7" opacity=".8"/>
<clipPath id="rc8"><path d="M537.4,703.5H605V746.4H537.4Z"/></clipPath>
<g clip-path="url(#rc8)"><path d="M537.4,703.5H605V746.4H537.4Z" fill="#8cadc0"/><path d="M537.4,703.5H605V746.4H537.4Z" fill="none" stroke="#1f5a7c" stroke-width="5.5" filter="url(#b15)"/><path d="M537.4,703.5H605V746.4H537.4Z" fill="none" stroke="#0f4a6a" stroke-width="2.2" filter="url(#b05)"/></g><path d="M537.4,703.5H605V746.4H537.4Z" fill="none" stroke="#33556b" stroke-width=".7" opacity=".8"/>
<path d="M150,616H810C870,616.4 958,650 974.3,679.6Q976.2,682.5 974.3,685.4C958,715 870,748.6 810,749H150C110,749 60,741 30,726C14,717 1.5,701 1.5,682.5C1.5,664 14,648 30,639C60,624 110,616 150,616Z" fill="none" stroke="#000" stroke-width="2.2" />
</g>
<text x="445.6" y="12" font-size="12.3" font-weight="bold" fill="#164a69" textLength="109.6" lengthAdjust="spacingAndGlyphs" font-family="Liberation Sans, sans-serif">Солнечная палуба</text>
<text x="442" y="152" font-size="12.3" font-weight="bold" fill="#164a69" textLength="116.4" lengthAdjust="spacingAndGlyphs" font-family="Liberation Sans, sans-serif">Шлюпочная палуба</text>
<text x="452.8" y="298.5" font-size="12.3" font-weight="bold" fill="#164a69" textLength="95.2" lengthAdjust="spacingAndGlyphs" font-family="Liberation Sans, sans-serif">Средняя палуба</text>
<text x="454.4" y="454.5" font-size="12.3" font-weight="bold" fill="#164a69" textLength="92.0" lengthAdjust="spacingAndGlyphs" font-family="Liberation Sans, sans-serif">Главная палуба</text>
<text x="455.5" y="610.5" font-size="12.3" font-weight="bold" fill="#164a69" textLength="89.0" lengthAdjust="spacingAndGlyphs" font-family="Liberation Sans, sans-serif">Нижняя палуба</text>
<text y="30.6" font-size="15.2" fill="#c0c0c0" font-family="Liberation Sans, sans-serif"><tspan x="38.8" textLength="88" lengthAdjust="spacingAndGlyphs">KNYAZHNA</tspan><tspan x="137" textLength="97.6" lengthAdjust="spacingAndGlyphs">VICTORIA</tspan></text>
<text y="18.5" font-size="16" font-weight="bold" fill="#0d405f" font-family="Liberation Sans, sans-serif"><tspan x="38.8" textLength="88" lengthAdjust="spacing">КНЯЖНА</tspan><tspan x="135.2" textLength="99.8" lengthAdjust="spacingAndGlyphs">ВИКТОРИЯ</tspan></text>
<path d="M11.6,19.8V15.6L10.5,14.6V3.8H12.4C15.6,4.6 17.4,8.4 17.9,11.6V15.2H20.1V11.6C20.6,8.4 22.4,4.6 25.6,3.8H27.2V14.6L25.9,15.6V28" fill="none" stroke="#ee1c1c" stroke-width="1.5" stroke-linejoin="miter"/>
<path d="M4.6,21.2C9,20 15,20 19.6,20.4L23.4,25.4M5,21.6L8.6,26.4M6.4,22.4C11,21.4 16,21.8 20.4,22.6M7.4,23.8C12,23 17,23.6 22,25.6M15.4,20V16.2" fill="none" stroke="#8a8a8a" stroke-width="0.9"/>
<path d="M8.2,27.4C12,24.6 17,26 21,28C24,29.4 27,29 28.8,27.4C28.4,30.6 25,31.6 21,30.4C16,28.8 12,28.4 9.4,30.6Z" fill="#2a86c0"/>
<path d="M11.6,32.6C14,30.4 18,30.8 21,31.4C23,31.8 25,31.4 26.4,30.6C25,33 22,33.4 19.4,33C17.6,32.8 16.4,33.4 15.2,34.8Z" fill="#2a78b8"/>
<g filter="url(#glow)">
<path d="M277.4,79.5C275.3,70 282,62.6 291,63.6C297.2,64.4 298.4,69 296.2,71L294.2,72.2L292.8,71.4L291.8,73.6L290,73.2L289.6,75.4L286.5,77.4L284.2,80.6C282,84 278.4,83.8 277.4,79.5Z" fill="#fff"/>
<path d="M289,75.6L293,79.8V88" fill="none" stroke="#fff" stroke-width="1.9" stroke-linejoin="miter"/>
</g>
<path d="M281.6,66.4C286,65.4 290.4,67.4 292,70.2L290,72C288,69.6 285,68.4 281.8,68.2Z" fill="#4e7f9b"/>
<path d="M279.4,69.2C278.6,74 280.8,77.8 283,79.4L285,77.4C282.6,75 281.4,72.4 281.4,69Z" fill="#4e7f9b"/>
<g filter="url(#glow)" fill="#fff">
<rect x="467.4" y="61.1" width="16.8" height="12.6" rx="1"/>
<circle cx="462.3" cy="64.2" r="1.75"/>
<path d="M458.9,67h6.6v2.4l2.2,-0.4v1.6l-2.2,1.4v7.3h-1.6v-0.1h-2.6v0.1h-1.2v-3.6h-1.2z"/>
<circle cx="459.00" cy="83" r="1.75"/>
<circle cx="456.50" cy="88" r="1.75"/>
<circle cx="464.33" cy="83" r="1.75"/>
<circle cx="461.83" cy="88" r="1.75"/>
<circle cx="469.66" cy="83" r="1.75"/>
<circle cx="467.16" cy="88" r="1.75"/>
<circle cx="474.99" cy="83" r="1.75"/>
<circle cx="472.49" cy="88" r="1.75"/>
<circle cx="480.32" cy="83" r="1.75"/>
<circle cx="477.82" cy="88" r="1.75"/>
</g>
<circle cx="468.3" cy="69.4" r="0.6" fill="#2f6685"/>
<text x="540" y="80.2" font-size="11.7" font-weight="bold" fill="#fff" text-anchor="middle" filter="url(#glow)" font-family="Liberation Sans, sans-serif">BAR</text>
<g filter="url(#glow)">
<path d="M812.3,201.2H828.6L820.4,208.6Z" fill="none" stroke="#fff" stroke-width="1.1" stroke-linejoin="miter"/>
<path d="M820.4,208.4V221.3M816.3,221.6H824.7" fill="none" stroke="#fff" stroke-width="1.4"/>
<path d="M820.4,207.4L827.4,199.4" stroke="#fff" stroke-width="0.9"/>
<path d="M815.5,204.6H825.2" stroke="#fff" stroke-width="0.7" opacity=".8"/>
<circle cx="820.4" cy="207.5" r="1.3" fill="#fff"/>
<text x="820.4" y="235.8" font-size="11.7" font-weight="bold" fill="#fff" text-anchor="middle" font-family="Liberation Sans, sans-serif">BAR</text>
</g>
<g filter="url(#glow)" fill="#fff">
<circle cx="150.00" cy="335.40" r="8.8"/>
<path d="M136.80,326.20h0.9v4.4h0.55v-4.4h0.9v4.4h0.55v-4.4h0.9v5.6q0,1.6 -1,2.1l0.35,11h-2.2l0.35,-11q-1,-0.5 -1,-2.1z"/>
<path d="M160.00,326.20q2.3,1.2 2.3,6v4.8h-0.5l0.3,7.8h-2.1z"/>
</g>
<circle cx="150.00" cy="335.40" r="6.6" fill="none" stroke="#6f98b0" stroke-width="0.55" stroke-dasharray="1.6 0.7"/>
<g filter="url(#glow)" fill="#fff">
<circle cx="150.00" cy="405.40" r="8.8"/>
<path d="M136.80,396.20h0.9v4.4h0.55v-4.4h0.9v4.4h0.55v-4.4h0.9v5.6q0,1.6 -1,2.1l0.35,11h-2.2l0.35,-11q-1,-0.5 -1,-2.1z"/>
<path d="M160.00,396.20q2.3,1.2 2.3,6v4.8h-0.5l0.3,7.8h-2.1z"/>
</g>
<circle cx="150.00" cy="405.40" r="6.6" fill="none" stroke="#6f98b0" stroke-width="0.55" stroke-dasharray="1.6 0.7"/>
<g filter="url(#glow)" fill="#fff">
<circle cx="295.00" cy="370.40" r="8.8"/>
<path d="M281.80,361.20h0.9v4.4h0.55v-4.4h0.9v4.4h0.55v-4.4h0.9v5.6q0,1.6 -1,2.1l0.35,11h-2.2l0.35,-11q-1,-0.5 -1,-2.1z"/>
<path d="M305.00,361.20q2.3,1.2 2.3,6v4.8h-0.5l0.3,7.8h-2.1z"/>
</g>
<circle cx="295.00" cy="370.40" r="6.6" fill="none" stroke="#6f98b0" stroke-width="0.55" stroke-dasharray="1.6 0.7"/>
<path d="M367.80,319.10H385.70V336.90A7.5,7.5 0 0 1 378.20,344.40H359.80V327.10A8,8 0 0 1 367.80,319.10Z" fill="url(#leaf)" filter="url(#shadow)"/>
<rect x="371.90" y="320.90" width="1.2" height="22.4" fill="#e8f0f5"/>
<circle cx="366.60" cy="324.70" r="1.4" fill="#fff"/>
<path d="M363.70,326.70h5.8v6.9h-1.1v7.3h-1.45v-6.6h-0.7v6.6h-1.45v-7.3h-1.1z" fill="#fff"/>
<circle cx="378.80" cy="324.70" r="1.4" fill="#fff"/>
<path d="M376.30,326.70h5v5.6l0.6,1.2h-0.9l0.7,2h-1.6v5.4h-1.05v-5.4h-0.5v5.4h-1.05v-5.4h-1.6l0.7,-2h-0.9l0.6,-1.2z" fill="#fff"/>
<path d="M369.00,396.20H386.90V414.00A7.5,7.5 0 0 1 379.40,421.50H361.00V404.20A8,8 0 0 1 369.00,396.20Z" fill="url(#leaf)" filter="url(#shadow)"/>
<rect x="373.10" y="398.00" width="1.2" height="22.4" fill="#e8f0f5"/>
<circle cx="367.80" cy="401.80" r="1.4" fill="#fff"/>
<path d="M364.90,403.80h5.8v6.9h-1.1v7.3h-1.45v-6.6h-0.7v6.6h-1.45v-7.3h-1.1z" fill="#fff"/>
<circle cx="380.00" cy="401.80" r="1.4" fill="#fff"/>
<path d="M377.50,403.80h5v5.6l0.6,1.2h-0.9l0.7,2h-1.6v5.4h-1.05v-5.4h-0.5v5.4h-1.05v-5.4h-1.6l0.7,-2h-0.9l0.6,-1.2z" fill="#fff"/>
<path d="M350.20,551.70H368.10V571.20A6,6 0 0 1 362.10,577.20H342.20V559.70A8,8 0 0 1 350.20,551.70Z" fill="#fb0a14" filter="url(#shadowg)"/>
<circle cx="355.2" cy="564.3" r="8.1" fill="#fff"/>
<path d="M353.95,558.6h2.5v4.45h4.45v2.5h-4.45v4.45h-2.5v-4.45h-4.45v-2.5h4.45z" fill="#fb0a14"/>
<path d="M462.80,513.00H480.80V532.30A6,6 0 0 1 474.80,538.30H455.30V520.50A7.5,7.5 0 0 1 462.80,513.00Z" fill="url(#leaf)" filter="url(#shadow)"/>
<path d="M463.3,524.6h10.6v4.4q0,2.8 -2.6,2.8h-5.4q-2.6,0 -2.6,-2.8z" fill="#fff"/>
<path d="M473.90000000000003,525.6q3,-0.4 3,1.8q0,2.2 -3.4,2.4" fill="none" stroke="#fff" stroke-width="1"/>
<path d="M460.3,533.7H476.8" stroke="#fff" stroke-width="1.3"/>
<path d="M466.7,523q-2.2,-1.6 -0.4,-3.2q1.8,-1.6 -0.2,-3.4M469.90000000000003,523q-2.2,-1.8 -0.2,-3.6q2,-1.8 -0.6,-4" fill="none" stroke="#fff" stroke-width="0.8"/>
<path d="M495.50,513.00H513.60V532.30A6,6 0 0 1 507.60,538.30H488.00V520.50A7.5,7.5 0 0 1 495.50,513.00Z" fill="url(#leaf)" filter="url(#shadow)"/>
<circle cx="500.5" cy="525.8" r="8.2" fill="none" stroke="#fff" stroke-width="0.9"/>
<path d="M499.0,518.4q4.5,-0.8 7,3l1.6,3.4l-0.6,2.6l-2.6,0.2l-1.8,2.4l-1.8,-0.6l-0.6,3l-1.6,-0.4l-0.6,-3.4l-2.4,-1.8l0.4,-2.6l2.4,-1.4l0.6,-2z" fill="#fff"/>
<path d="M495.1,522.8l2,-1l0.4,1.6l-1.6,1.6z" fill="#fff"/>
<ellipse cx="500.5" cy="525.8" rx="12.8" ry="3.5" transform="rotate(32.5 500.5 525.8)" fill="none" stroke="#fff" stroke-width="1.1"/>
<path d="M538.40,513.00H556.20V532.30A6,6 0 0 1 550.20,538.30H530.90V520.50A7.5,7.5 0 0 1 538.40,513.00Z" fill="url(#leaf)" filter="url(#shadow)"/>
<path d="M533.2,520.4V534.2H542.2q1.4,0.9 2.8,0H554.0V520.4" fill="none" stroke="#fff" stroke-width="0.9"/>
<path d="M543.2,519.6C540.6,517.6 537.0,517.6 534.6,518.8V532.2C537.0,531.2 540.6,531.4 543.2,533Z" fill="#fff"/>
<path d="M544.0,519.6C546.6,517.6 550.2,517.6 552.6,518.8V532.2C550.2,531.2 546.6,531.4 544.0,533Z" fill="#fff"/>
<path d="M658.50,513.00H676.80V532.70A6,6 0 0 1 670.80,538.70H651.00V520.50A7.5,7.5 0 0 1 658.50,513.00Z" fill="url(#leaf)" filter="url(#shadow)"/>
<path d="M660.7,519.2V517.3H671.2V530.9H669.2M658.5,521.3V519.3H669V533H667" fill="none" stroke="#fff" stroke-width="0.9"/>
<rect x="656.3" y="521.4" width="10.5" height="13.7" fill="#2c6888" stroke="#fff" stroke-width="0.9"/>
<path d="M657.8,523.8h7.5M657.8,526.1h7.5M657.8,528.4h7.5M657.8,530.7h7.5M657.8,533h7.5" stroke="#fff" stroke-width="0.9" opacity=".9"/>
<path d="M701.70,513.00H719.80V532.70A6,6 0 0 1 713.80,538.70H694.20V520.50A7.5,7.5 0 0 1 701.70,513.00Z" fill="url(#leaf)" filter="url(#shadow)"/>
<circle cx="706.9" cy="526.3" r="7.7" fill="none" stroke="#fff" stroke-width="1.3"/>
<circle cx="706.9" cy="521.9" r="1.55" fill="#fff"/>
<rect x="705.3" y="524.0999999999999" width="3.2" height="7.6" fill="#fff"/>
<path d="M707.50,474.20H725.50V493.70A6,6 0 0 1 719.50,499.70H700.00V481.70A7.5,7.5 0 0 1 707.50,474.20Z" fill="url(#leaf)" filter="url(#shadow)"/>
<ellipse cx="712.5" cy="481.3" rx="3.7" ry="4.4" fill="#0d4767"/>
<path d="M707.5,489.6h10l-1.3,7.2h-7.4z" fill="#0d4767"/>
<ellipse cx="712.5" cy="487.8" rx="5.6" ry="2.4" fill="#fff"/>
<path d="M710.3,485.2l1.2,2.6l1,-1.6l1,1.6l1.2,-2.6z" fill="#0d4767"/>
<ellipse cx="712.5" cy="482.2" rx="2.3" ry="1.9" fill="#fff"/>
<circle cx="711.5" cy="481" r="0.5" fill="#0d4767"/><circle cx="713.5" cy="481" r="0.5" fill="#0d4767"/>
<path d="M707.80,552.60H725.70V570.40A7.5,7.5 0 0 1 718.20,577.90H699.80V560.60A8,8 0 0 1 707.80,552.60Z" fill="url(#leaf)" filter="url(#shadow)"/>
<rect x="711.90" y="554.40" width="1.2" height="22.4" fill="#e8f0f5"/>
<circle cx="706.60" cy="558.20" r="1.4" fill="#fff"/>
<path d="M703.70,560.20h5.8v6.9h-1.1v7.3h-1.45v-6.6h-0.7v6.6h-1.45v-7.3h-1.1z" fill="#fff"/>
<circle cx="718.80" cy="558.20" r="1.4" fill="#fff"/>
<path d="M716.30,560.20h5v5.6l0.6,1.2h-0.9l0.7,2h-1.6v5.4h-1.05v-5.4h-0.5v5.4h-1.05v-5.4h-1.6l0.7,-2h-0.9l0.6,-1.2z" fill="#fff"/>
<g filter="url(#glow)" fill="#fff">
<path d="M497.5,712.4H521" stroke="#fff" stroke-width="1.1"/>
<rect x="496" y="709" width="2.6" height="7" rx="1.2"/><rect x="519.8" y="709" width="2.6" height="7" rx="1.2"/>
<circle cx="508.9" cy="716.4" r="2.3"/>
<path d="M501.29999999999995,712.6l1.5,-0.7l4.8,7.3h2.6l4.8,-7.3l1.5,0.7l-4.8,9.2v19.2h-2.3v-11.4h-1v11.4h-2.3v-19.2z"/>
</g>
<g filter="url(#glow)" fill="#fff">
<circle cx="581.2" cy="716.6" r="2.5"/>
<path d="M555.4,728.2L575.2,726.6L585.6,717.4L587.4,719L577.4,729.4L555.6,730.6Z"/>
<path d="M562.4,729.6L560.6,736.2H562L564.4,729.6ZM577.2,729L579.4,736.2H580.8L578.8,729Z"/>
<path d="M557,724.4Q560,722.6 563,723.6Q568,721.2 571.6,722.6L576.6,718.8L579.6,717.6L581.4,719.6L574.2,726L562,726.6Q560,725.2 557,725.8Z"/>
</g>
<g id="legend">
<rect x="2.5" y="589" width="293" height="157.5" fill="#fff" fill-opacity=".8" stroke="#9a9a9a" stroke-width="1"/>
<path d="M13.60,593.40H23.60V603.40A5.4,5.4 0 0 1 18.20,608.80H8.20V598.80A5.4,5.4 0 0 1 13.60,593.40Z" fill="#f6b1b3" stroke="#d98a8e" stroke-width="1"/>
<text x="30.4" y="605.20" font-size="12.2" fill="#000" stroke="#000" stroke-width=".2" textLength="170.5" lengthAdjust="spacing" font-family="Liberation Sans, sans-serif">Категория «Люкс с балконом»</text>
<path d="M13.60,612.42H23.60V622.42A5.4,5.4 0 0 1 18.20,627.82H8.20V617.82A5.4,5.4 0 0 1 13.60,612.42Z" fill="#fbd576" stroke="#dba83c" stroke-width="1"/>
<text x="30.4" y="624.22" font-size="12.2" fill="#000" stroke="#000" stroke-width=".2" textLength="197.5" lengthAdjust="spacing" font-family="Liberation Sans, sans-serif">Категория «Полулюкс с балконом»</text>
<path d="M13.60,631.44H23.60V641.44A5.4,5.4 0 0 1 18.20,646.84H8.20V636.84A5.4,5.4 0 0 1 13.60,631.44Z" fill="#fcc99b" stroke="#de9c62" stroke-width="1"/>
<text x="30.4" y="643.24" font-size="12.2" fill="#000" stroke="#000" stroke-width=".2" textLength="257.5" lengthAdjust="spacing" font-family="Liberation Sans, sans-serif">Категория «Полулюкс-панорама с балконом»</text>
<path d="M13.60,650.46H23.60V660.46A5.4,5.4 0 0 1 18.20,665.86H8.20V655.86A5.4,5.4 0 0 1 13.60,650.46Z" fill="#fffb8c" stroke="#d6d05c" stroke-width="1"/>
<text x="30.4" y="662.26" font-size="12.2" fill="#000" stroke="#000" stroke-width=".2" textLength="148" lengthAdjust="spacing" font-family="Liberation Sans, sans-serif">Категория «Л с балконом»</text>
<path d="M13.60,669.48H23.60V679.48A5.4,5.4 0 0 1 18.20,684.88H8.20V674.88A5.4,5.4 0 0 1 13.60,669.48Z" fill="#e6f2fc" stroke="#b4cde0" stroke-width="1"/>
<text x="30.4" y="681.28" font-size="12.2" fill="#000" stroke="#000" stroke-width=".2" textLength="154" lengthAdjust="spacing" font-family="Liberation Sans, sans-serif">Категория «1А с балконом»</text>
<path d="M13.60,688.50H23.60V698.50A5.4,5.4 0 0 1 18.20,703.90H8.20V693.90A5.4,5.4 0 0 1 13.60,688.50Z" fill="#c5e3f9" stroke="#8fb6d6" stroke-width="1"/>
<text x="30.4" y="700.30" font-size="12.2" fill="#000" stroke="#000" stroke-width=".2" textLength="154" lengthAdjust="spacing" font-family="Liberation Sans, sans-serif">Категория «1Б с балконом»</text>
<path d="M13.60,707.52H23.60V717.52A5.4,5.4 0 0 1 18.20,722.92H8.20V712.92A5.4,5.4 0 0 1 13.60,707.52Z" fill="#9ad0f9" stroke="#5a9ed2" stroke-width="1"/>
<text x="30.4" y="719.32" font-size="12.2" fill="#000" stroke="#000" stroke-width=".2" textLength="86" lengthAdjust="spacing" font-family="Liberation Sans, sans-serif">Категория «1С»</text>
<path d="M13.60,726.54H23.60V736.54A5.4,5.4 0 0 1 18.20,741.94H8.20V731.94A5.4,5.4 0 0 1 13.60,726.54Z" fill="#8fcfa8" stroke="#55a073" stroke-width="1"/>
<text x="30.4" y="738.34" font-size="12.2" fill="#000" stroke="#000" stroke-width=".2" textLength="86" lengthAdjust="spacing" font-family="Liberation Sans, sans-serif">Категория «2А»</text>
</g>
</svg></body></html>
